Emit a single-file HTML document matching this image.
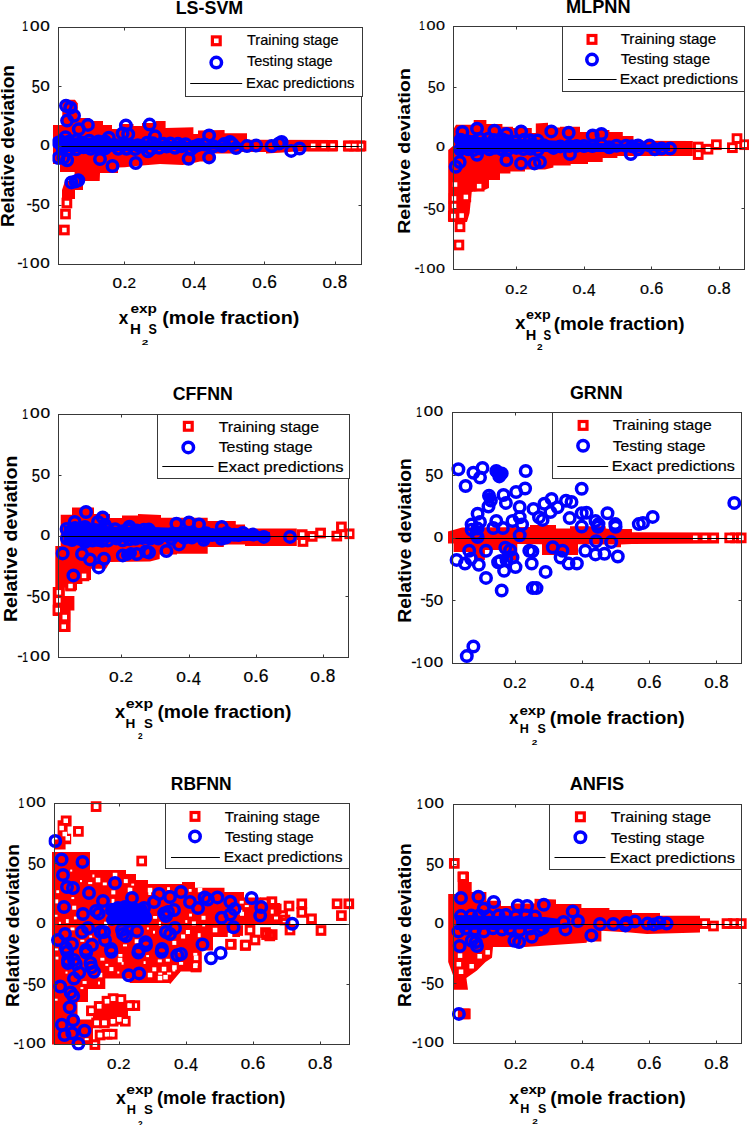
<!DOCTYPE html>
<html><head><meta charset="utf-8"><style>
html,body{margin:0;padding:0;background:#fff;width:749px;height:1125px;overflow:hidden}
svg{display:block;font-family:"Liberation Sans",sans-serif}
</style></head><body>
<svg width="749" height="1125" viewBox="0 0 749 1125">
<rect width="749" height="1125" fill="#fff"/>
<clipPath id="c1"><rect x="52.5" y="21.5" width="315.0" height="249.0"/></clipPath>
<g clip-path="url(#c1)">
<polygon points="53.0,125.0 76.0,125.0 76.0,118.0 90.0,118.0 90.0,121.0 103.0,121.0 103.0,125.0 112.0,125.0 112.0,129.0 120.0,129.0 120.0,124.0 133.5,124.0 133.5,126.0 142.0,126.0 142.0,123.0 156.0,123.0 156.0,121.0 165.6,121.0 165.6,128.0 193.4,127.2 193.4,134.0 198.0,134.0 198.0,130.5 224.6,130.1 224.6,133.3 247.0,133.3 247.0,139.7 337.5,140.0 337.5,151.5 295.0,151.5 283.0,152.5 266.0,153.6 266.0,152.0 239.5,152.0 239.5,153.6 214.0,153.6 214.0,161.6 200.0,161.6 193.4,163.0 182.7,165.0 160.0,164.0 133.5,166.2 125.0,167.3 118.0,167.5 118.0,173.0 100.0,173.0 99.7,181.0 74.6,181.0 74.6,172.0 60.0,172.0 60.0,164.0 53.0,164.0" fill="#f00"/>
<polygon points="343.5,140.5 365.0,140.5 365.0,151.5 343.5,151.5" fill="#f00"/>
<polygon points="66.0,99.8 75.0,99.8 77.8,103.5 77.8,125.0 62.3,125.0 62.3,103.5" fill="#f00"/>
<polygon points="65.0,181.0 83.0,181.0 83.0,190.0 75.0,190.0 75.0,199.0 62.0,199.0 62.0,190.0" fill="#f00"/>
<g fill="none" stroke="#f00" stroke-width="3.1">
<rect x="60.6" y="226.2" width="7.6" height="7.6"/>
<rect x="61.7" y="210.2" width="7.6" height="7.6"/>
<rect x="63.1" y="199.2" width="7.6" height="7.6"/>
<rect x="309.4" y="142.0" width="7.6" height="7.6"/>
<rect x="319.9" y="142.0" width="7.6" height="7.6"/>
<rect x="328.9" y="142.0" width="7.6" height="7.6"/>
<rect x="344.5" y="142.2" width="7.6" height="7.6"/>
<rect x="350.5" y="142.2" width="7.6" height="7.6"/>
<rect x="357.2" y="142.2" width="7.6" height="7.6"/>
</g>
<rect x="310.9" y="143.6" width="4.5" height="4.5" fill="#fff"/>
<rect x="321.4" y="143.6" width="4.5" height="4.5" fill="#fff"/>
<rect x="330.4" y="143.6" width="4.5" height="4.5" fill="#fff"/>
<rect x="346.1" y="143.8" width="4.5" height="4.5" fill="#fff"/>
<rect x="352.1" y="143.8" width="4.5" height="4.5" fill="#fff"/>
<rect x="358.8" y="143.8" width="4.5" height="4.5" fill="#fff"/>
<polygon points="56.0,137.0 110.0,138.0 120.0,141.0 190.0,142.0 240.0,143.0 240.0,149.0 190.0,150.0 120.0,150.0 110.0,152.0 56.0,152.0" fill="#00f"/>
<g fill="none" stroke="#00f" stroke-width="3.5">
<circle cx="66.0" cy="105.7" r="5.25"/>
<circle cx="70.3" cy="107.8" r="5.25"/>
<circle cx="74.0" cy="115.8" r="5.25"/>
<circle cx="67.1" cy="120.6" r="5.25"/>
<circle cx="87.9" cy="124.9" r="5.25"/>
<circle cx="125.9" cy="125.4" r="5.25"/>
<circle cx="78.8" cy="129.2" r="5.25"/>
<circle cx="65.5" cy="137.2" r="5.25"/>
<circle cx="58.5" cy="142.5" r="5.25"/>
<circle cx="108.8" cy="137.7" r="5.25"/>
<circle cx="122.6" cy="133.5" r="5.25"/>
<circle cx="58.5" cy="158.0" r="5.25"/>
<circle cx="67.1" cy="160.2" r="5.25"/>
<circle cx="63.4" cy="157.7" r="5.25"/>
<circle cx="112.5" cy="166.0" r="5.25"/>
<circle cx="71.4" cy="182.4" r="5.25"/>
<circle cx="75.6" cy="181.4" r="5.25"/>
<circle cx="78.3" cy="180.3" r="5.25"/>
<circle cx="100.0" cy="159.0" r="5.25"/>
<circle cx="149.6" cy="124.6" r="5.25"/>
<circle cx="135.7" cy="163.0" r="5.25"/>
<circle cx="188.6" cy="158.8" r="5.25"/>
<circle cx="148.0" cy="151.3" r="5.25"/>
<circle cx="155.0" cy="136.3" r="5.25"/>
<circle cx="198.7" cy="144.9" r="5.25"/>
<circle cx="128.2" cy="134.2" r="5.25"/>
<circle cx="209.1" cy="135.4" r="5.25"/>
<circle cx="209.1" cy="157.4" r="5.25"/>
<circle cx="247.0" cy="146.1" r="5.25"/>
<circle cx="256.1" cy="145.6" r="5.25"/>
<circle cx="271.6" cy="146.1" r="5.25"/>
<circle cx="279.0" cy="143.5" r="5.25"/>
<circle cx="230.0" cy="142.0" r="5.25"/>
<circle cx="236.0" cy="148.0" r="5.25"/>
<circle cx="222.0" cy="146.0" r="5.25"/>
<circle cx="281.6" cy="141.9" r="5.25"/>
<circle cx="291.2" cy="150.9" r="5.25"/>
<circle cx="299.6" cy="148.5" r="5.25"/>
<circle cx="61.2" cy="141.6" r="5.25"/>
<circle cx="68.6" cy="141.8" r="5.25"/>
<circle cx="76.4" cy="140.2" r="5.25"/>
<circle cx="81.5" cy="142.5" r="5.25"/>
<circle cx="89.3" cy="140.7" r="5.25"/>
<circle cx="98.5" cy="141.4" r="5.25"/>
<circle cx="105.0" cy="141.4" r="5.25"/>
<circle cx="62.4" cy="147.5" r="5.25"/>
<circle cx="69.4" cy="149.6" r="5.25"/>
<circle cx="76.1" cy="149.2" r="5.25"/>
<circle cx="83.5" cy="147.2" r="5.25"/>
<circle cx="90.8" cy="148.8" r="5.25"/>
<circle cx="96.4" cy="147.1" r="5.25"/>
<circle cx="105.1" cy="148.4" r="5.25"/>
<circle cx="114.7" cy="145.1" r="5.25"/>
<circle cx="122.6" cy="145.3" r="5.25"/>
<circle cx="129.7" cy="144.9" r="5.25"/>
<circle cx="137.8" cy="145.3" r="5.25"/>
<circle cx="147.1" cy="142.8" r="5.25"/>
<circle cx="152.9" cy="143.2" r="5.25"/>
<circle cx="163.4" cy="143.8" r="5.25"/>
<circle cx="170.4" cy="143.4" r="5.25"/>
<circle cx="178.0" cy="143.7" r="5.25"/>
<circle cx="185.6" cy="144.3" r="5.25"/>
<circle cx="118.3" cy="148.7" r="5.25"/>
<circle cx="126.5" cy="148.8" r="5.25"/>
<circle cx="135.1" cy="149.0" r="5.25"/>
<circle cx="142.5" cy="146.5" r="5.25"/>
<circle cx="151.1" cy="148.9" r="5.25"/>
<circle cx="159.2" cy="147.7" r="5.25"/>
<circle cx="166.6" cy="146.6" r="5.25"/>
<circle cx="175.0" cy="147.7" r="5.25"/>
<circle cx="181.4" cy="146.2" r="5.25"/>
<circle cx="191.1" cy="149.0" r="5.25"/>
<circle cx="194.8" cy="146.4" r="5.25"/>
<circle cx="204.7" cy="144.5" r="5.25"/>
<circle cx="213.4" cy="146.3" r="5.25"/>
<circle cx="224.1" cy="144.1" r="5.25"/>
<circle cx="232.3" cy="144.1" r="5.25"/>
</g>
</g>
<line x1="58.5" y1="146.5" x2="361.5" y2="146.5" stroke="#000" stroke-width="1.0"/>
<rect x="58.5" y="27.5" width="303.0" height="237.0" fill="none" stroke="#383838" stroke-width="1"/>
<path d="M124.5,264.5v-3.0M124.5,27.5v3.0M194.5,264.5v-3.0M194.5,27.5v3.0M264.5,264.5v-3.0M264.5,27.5v3.0M335.5,264.5v-3.0M335.5,27.5v3.0M58.5,27.5h3.0M361.5,27.5h-3.0M58.5,86.5h3.0M361.5,86.5h-3.0M58.5,146.5h3.0M361.5,146.5h-3.0M58.5,205.5h3.0M361.5,205.5h-3.0M58.5,264.5h3.0M361.5,264.5h-3.0" stroke="#383838" stroke-width="1"/>
<text x="22.32" y="31.45" font-size="14.39" stroke="#000" stroke-width="0.2" textLength="5.68" lengthAdjust="spacingAndGlyphs" fill="#000">1</text>
<text x="30.03" y="31.31" font-size="13.98" stroke="#000" stroke-width="0.2" textLength="9.54" lengthAdjust="spacingAndGlyphs" fill="#000">0</text>
<text x="40.23" y="31.31" font-size="13.98" stroke="#000" stroke-width="0.2" textLength="9.54" lengthAdjust="spacingAndGlyphs" fill="#000">0</text>
<text x="31.71" y="93.02" font-size="18.05" stroke="#000" stroke-width="0.2" textLength="8.21" lengthAdjust="spacingAndGlyphs" fill="#000">5</text>
<text x="40.23" y="90.56" font-size="13.98" stroke="#000" stroke-width="0.2" textLength="9.54" lengthAdjust="spacingAndGlyphs" fill="#000">0</text>
<text x="40.23" y="149.81" font-size="13.98" stroke="#000" stroke-width="0.2" textLength="9.54" lengthAdjust="spacingAndGlyphs" fill="#000">0</text>
<text x="26.48" y="208.51" font-size="16" stroke="#000" stroke-width="0.2" textLength="5.44" lengthAdjust="spacingAndGlyphs" fill="#000">-</text>
<text x="31.71" y="211.52" font-size="18.05" stroke="#000" stroke-width="0.2" textLength="8.21" lengthAdjust="spacingAndGlyphs" fill="#000">5</text>
<text x="40.23" y="209.06" font-size="13.98" stroke="#000" stroke-width="0.2" textLength="9.54" lengthAdjust="spacingAndGlyphs" fill="#000">0</text>
<text x="17.18" y="267.76" font-size="16" stroke="#000" stroke-width="0.2" textLength="5.44" lengthAdjust="spacingAndGlyphs" fill="#000">-</text>
<text x="22.32" y="268.45" font-size="14.39" stroke="#000" stroke-width="0.2" textLength="5.68" lengthAdjust="spacingAndGlyphs" fill="#000">1</text>
<text x="30.03" y="268.31" font-size="13.98" stroke="#000" stroke-width="0.2" textLength="9.54" lengthAdjust="spacingAndGlyphs" fill="#000">0</text>
<text x="40.23" y="268.31" font-size="13.98" stroke="#000" stroke-width="0.2" textLength="9.54" lengthAdjust="spacingAndGlyphs" fill="#000">0</text>
<text x="112.43" y="287.81" font-size="13.98" stroke="#000" stroke-width="0.2" textLength="9.54" lengthAdjust="spacingAndGlyphs" fill="#000">0</text>
<text x="121.42" y="287.95" font-size="15" stroke="#000" stroke-width="0.2" textLength="6.95" lengthAdjust="spacingAndGlyphs" fill="#000">.</text>
<text x="127.53" y="287.95" font-size="14.18" stroke="#000" stroke-width="0.2" textLength="8.54" lengthAdjust="spacingAndGlyphs" fill="#000">2</text>
<text x="181.98" y="287.81" font-size="13.98" stroke="#000" stroke-width="0.2" textLength="9.54" lengthAdjust="spacingAndGlyphs" fill="#000">0</text>
<text x="190.97" y="287.95" font-size="15" stroke="#000" stroke-width="0.2" textLength="6.95" lengthAdjust="spacingAndGlyphs" fill="#000">.</text>
<text x="197.27" y="290.45" font-size="18.31" stroke="#000" stroke-width="0.2" textLength="9.16" lengthAdjust="spacingAndGlyphs" fill="#000">4</text>
<text x="252.18" y="287.81" font-size="13.98" stroke="#000" stroke-width="0.2" textLength="9.54" lengthAdjust="spacingAndGlyphs" fill="#000">0</text>
<text x="261.17" y="287.95" font-size="15" stroke="#000" stroke-width="0.2" textLength="6.95" lengthAdjust="spacingAndGlyphs" fill="#000">.</text>
<text x="267.26" y="287.87" font-size="17.51" stroke="#000" stroke-width="0.2" textLength="9.65" lengthAdjust="spacingAndGlyphs" fill="#000">6</text>
<text x="322.48" y="287.81" font-size="13.98" stroke="#000" stroke-width="0.2" textLength="9.54" lengthAdjust="spacingAndGlyphs" fill="#000">0</text>
<text x="331.48" y="287.95" font-size="15" stroke="#000" stroke-width="0.2" textLength="6.95" lengthAdjust="spacingAndGlyphs" fill="#000">.</text>
<text x="337.72" y="287.87" font-size="17.51" stroke="#000" stroke-width="0.2" textLength="9.47" lengthAdjust="spacingAndGlyphs" fill="#000">8</text>
<text x="175.70" y="13.90" font-size="18.17" font-weight="bold" textLength="67.49" lengthAdjust="spacingAndGlyphs" fill="#000">LS-SVM</text>
<text transform="translate(14.15,226.98) rotate(-90)" x="0" y="0" font-size="17.6" font-weight="bold" textLength="161.96" lengthAdjust="spacingAndGlyphs">Relative deviation</text>
<text x="118.78" y="323.50" font-size="19" font-weight="bold" textLength="9.54" lengthAdjust="spacingAndGlyphs" fill="#000">x</text>
<text x="130.40" y="313.20" font-size="13" font-weight="bold" textLength="26.53" lengthAdjust="spacingAndGlyphs" fill="#000">exp</text>
<text x="129.99" y="334.30" font-size="14.39" font-weight="bold" textLength="10.93" lengthAdjust="spacingAndGlyphs" fill="#000">H</text>
<text x="141.79" y="344.50" font-size="8.02" font-weight="bold" textLength="6.59" lengthAdjust="spacingAndGlyphs" fill="#000">2</text>
<text x="148.44" y="334.35" font-size="14.55" font-weight="bold" textLength="8.35" lengthAdjust="spacingAndGlyphs" fill="#000">S</text>
<text x="162.31" y="323.80" font-size="19" font-weight="bold" textLength="136.97" lengthAdjust="spacingAndGlyphs" fill="#000">(mole fraction)</text>
<rect x="185.5" y="27.5" width="177.0" height="69.0" fill="#fff" stroke="#383838" stroke-width="1"/>
<rect x="212.4" y="36.9" width="7.8" height="7.8" fill="none" stroke="#f00" stroke-width="3.2"/>
<circle cx="216.3" cy="62.6" r="5.25" fill="none" stroke="#00f" stroke-width="3.5"/>
<line x1="190.2" y1="83.5" x2="242.2" y2="83.5" stroke="#000" stroke-width="1"/>
<text x="246.98" y="44.90" font-size="15" stroke="#000" stroke-width="0.2" textLength="91.66" lengthAdjust="spacingAndGlyphs" fill="#000">Training stage</text>
<text x="246.98" y="66.40" font-size="15" stroke="#000" stroke-width="0.2" textLength="85.73" lengthAdjust="spacingAndGlyphs" fill="#000">Testing stage</text>
<text x="246.09" y="88.00" font-size="15" stroke="#000" stroke-width="0.2" textLength="108.24" lengthAdjust="spacingAndGlyphs" fill="#000">Exac predictions</text>
<clipPath id="c2"><rect x="447.5" y="20.5" width="303.0" height="255.0"/></clipPath>
<g clip-path="url(#c2)">
<polygon points="456.0,124.7 473.7,124.7 473.7,120.0 486.4,120.0 486.4,124.0 502.4,124.0 502.4,126.7 513.0,126.7 513.0,128.0 531.8,128.0 531.8,133.0 535.8,133.0 535.8,123.4 548.0,122.7 548.0,127.4 560.0,127.4 560.0,126.7 580.0,126.7 580.0,132.0 588.0,132.0 588.0,130.0 609.4,130.0 609.4,132.0 622.8,132.0 622.8,136.0 633.5,136.0 633.5,140.7 692.8,140.9 692.8,156.0 617.4,156.0 617.4,158.0 602.7,158.0 602.7,162.0 588.0,162.0 588.0,164.0 570.7,164.0 570.7,165.4 553.4,165.4 553.4,167.4 545.0,169.4 525.0,169.4 525.0,171.4 510.4,171.4 510.4,173.4 500.0,173.4 500.0,180.0 489.0,180.0 489.0,188.0 484.5,190.0 471.7,192.0 470.6,202.7 469.6,213.0 467.0,222.0 448.2,222.0 448.2,150.0 453.0,146.0 453.0,130.0" fill="#f00"/>
<g fill="none" stroke="#f00" stroke-width="3.1">
<rect x="456.2" y="223.0" width="7.6" height="7.6"/>
<rect x="455.1" y="241.2" width="7.6" height="7.6"/>
<rect x="450.2" y="194.7" width="7.6" height="7.6"/>
<rect x="450.2" y="202.2" width="7.6" height="7.6"/>
<rect x="449.5" y="212.2" width="7.6" height="7.6"/>
<rect x="462.0" y="193.1" width="7.6" height="7.6"/>
<rect x="457.8" y="211.8" width="7.6" height="7.6"/>
<rect x="475.4" y="182.4" width="7.6" height="7.6"/>
<rect x="451.2" y="180.8" width="7.6" height="7.6"/>
<rect x="694.4" y="143.2" width="7.6" height="7.6"/>
<rect x="694.4" y="150.8" width="7.6" height="7.6"/>
<rect x="704.2" y="145.4" width="7.6" height="7.6"/>
<rect x="712.6" y="140.9" width="7.6" height="7.6"/>
<rect x="728.6" y="143.9" width="7.6" height="7.6"/>
<rect x="733.2" y="134.8" width="7.6" height="7.6"/>
<rect x="740.8" y="140.9" width="7.6" height="7.6"/>
</g>
<rect x="457.8" y="224.6" width="4.5" height="4.5" fill="#fff"/>
<rect x="456.6" y="242.8" width="4.5" height="4.5" fill="#fff"/>
<rect x="451.8" y="196.2" width="4.5" height="4.5" fill="#fff"/>
<rect x="451.8" y="203.8" width="4.5" height="4.5" fill="#fff"/>
<rect x="451.1" y="213.8" width="4.5" height="4.5" fill="#fff"/>
<rect x="463.6" y="194.7" width="4.5" height="4.5" fill="#fff"/>
<rect x="459.4" y="213.3" width="4.5" height="4.5" fill="#fff"/>
<rect x="476.9" y="183.9" width="4.5" height="4.5" fill="#fff"/>
<rect x="452.8" y="182.3" width="4.5" height="4.5" fill="#fff"/>
<rect x="696.0" y="144.8" width="4.5" height="4.5" fill="#fff"/>
<rect x="696.0" y="152.3" width="4.5" height="4.5" fill="#fff"/>
<rect x="705.8" y="146.9" width="4.5" height="4.5" fill="#fff"/>
<rect x="714.1" y="142.4" width="4.5" height="4.5" fill="#fff"/>
<rect x="730.1" y="145.4" width="4.5" height="4.5" fill="#fff"/>
<rect x="734.8" y="136.3" width="4.5" height="4.5" fill="#fff"/>
<rect x="742.4" y="142.4" width="4.5" height="4.5" fill="#fff"/>
<polygon points="456.0,136.0 545.0,140.0 600.0,143.0 670.0,145.0 670.0,151.0 600.0,152.0 545.0,152.0 456.0,153.0" fill="#00f"/>
<g fill="none" stroke="#00f" stroke-width="3.5">
<circle cx="462.4" cy="132.0" r="5.25"/>
<circle cx="477.0" cy="128.7" r="5.25"/>
<circle cx="494.4" cy="130.7" r="5.25"/>
<circle cx="506.4" cy="134.0" r="5.25"/>
<circle cx="521.1" cy="131.4" r="5.25"/>
<circle cx="455.7" cy="166.8" r="5.25"/>
<circle cx="459.7" cy="162.0" r="5.25"/>
<circle cx="477.0" cy="154.7" r="5.25"/>
<circle cx="506.4" cy="160.0" r="5.25"/>
<circle cx="521.1" cy="163.4" r="5.25"/>
<circle cx="534.5" cy="163.4" r="5.25"/>
<circle cx="551.3" cy="131.4" r="5.25"/>
<circle cx="568.7" cy="132.7" r="5.25"/>
<circle cx="592.7" cy="135.4" r="5.25"/>
<circle cx="601.4" cy="134.0" r="5.25"/>
<circle cx="584.0" cy="146.0" r="5.25"/>
<circle cx="630.8" cy="154.0" r="5.25"/>
<circle cx="638.0" cy="145.4" r="5.25"/>
<circle cx="570.0" cy="154.0" r="5.25"/>
<circle cx="540.0" cy="162.0" r="5.25"/>
<circle cx="638.0" cy="149.2" r="5.25"/>
<circle cx="649.5" cy="145.4" r="5.25"/>
<circle cx="654.8" cy="149.2" r="5.25"/>
<circle cx="661.6" cy="148.5" r="5.25"/>
<circle cx="670.0" cy="148.5" r="5.25"/>
<circle cx="460.7" cy="139.7" r="5.25"/>
<circle cx="468.1" cy="141.6" r="5.25"/>
<circle cx="474.0" cy="141.7" r="5.25"/>
<circle cx="480.4" cy="138.9" r="5.25"/>
<circle cx="488.3" cy="138.8" r="5.25"/>
<circle cx="494.1" cy="139.9" r="5.25"/>
<circle cx="502.3" cy="139.2" r="5.25"/>
<circle cx="507.6" cy="141.3" r="5.25"/>
<circle cx="515.4" cy="141.6" r="5.25"/>
<circle cx="524.2" cy="139.8" r="5.25"/>
<circle cx="529.9" cy="140.3" r="5.25"/>
<circle cx="537.4" cy="140.5" r="5.25"/>
<circle cx="460.2" cy="149.6" r="5.25"/>
<circle cx="468.3" cy="149.2" r="5.25"/>
<circle cx="473.8" cy="149.9" r="5.25"/>
<circle cx="480.2" cy="148.6" r="5.25"/>
<circle cx="489.4" cy="149.3" r="5.25"/>
<circle cx="495.1" cy="147.7" r="5.25"/>
<circle cx="501.7" cy="149.4" r="5.25"/>
<circle cx="507.6" cy="149.5" r="5.25"/>
<circle cx="516.4" cy="147.9" r="5.25"/>
<circle cx="523.4" cy="149.1" r="5.25"/>
<circle cx="530.5" cy="148.8" r="5.25"/>
<circle cx="537.6" cy="149.9" r="5.25"/>
<circle cx="543.6" cy="145.2" r="5.25"/>
<circle cx="553.5" cy="147.9" r="5.25"/>
<circle cx="560.3" cy="146.4" r="5.25"/>
<circle cx="569.3" cy="146.0" r="5.25"/>
<circle cx="576.6" cy="145.9" r="5.25"/>
<circle cx="592.4" cy="146.1" r="5.25"/>
<circle cx="601.8" cy="145.1" r="5.25"/>
<circle cx="609.2" cy="147.2" r="5.25"/>
<circle cx="616.4" cy="145.7" r="5.25"/>
<circle cx="625.9" cy="145.7" r="5.25"/>
<circle cx="632.1" cy="146.3" r="5.25"/>
</g>
</g>
<line x1="453.5" y1="148.5" x2="744.5" y2="148.5" stroke="#000" stroke-width="1.0"/>
<rect x="453.5" y="26.5" width="291.0" height="243.0" fill="none" stroke="#383838" stroke-width="1"/>
<path d="M516.5,269.5v-3.0M516.5,26.5v3.0M584.5,269.5v-3.0M584.5,26.5v3.0M651.5,269.5v-3.0M651.5,26.5v3.0M719.5,269.5v-3.0M719.5,26.5v3.0M453.5,26.5h3.0M744.5,26.5h-3.0M453.5,87.5h3.0M744.5,87.5h-3.0M453.5,148.5h3.0M744.5,148.5h-3.0M453.5,208.5h3.0M744.5,208.5h-3.0M453.5,269.5h3.0M744.5,269.5h-3.0" stroke="#383838" stroke-width="1"/>
<text x="419.23" y="30.10" font-size="13.37" stroke="#000" stroke-width="0.2" textLength="5.34" lengthAdjust="spacingAndGlyphs" fill="#000">1</text>
<text x="426.48" y="29.97" font-size="12.99" stroke="#000" stroke-width="0.2" textLength="8.97" lengthAdjust="spacingAndGlyphs" fill="#000">0</text>
<text x="436.06" y="29.97" font-size="12.99" stroke="#000" stroke-width="0.2" textLength="8.97" lengthAdjust="spacingAndGlyphs" fill="#000">0</text>
<text x="428.05" y="93.18" font-size="17.05" stroke="#000" stroke-width="0.2" textLength="7.72" lengthAdjust="spacingAndGlyphs" fill="#000">5</text>
<text x="436.06" y="90.72" font-size="12.99" stroke="#000" stroke-width="0.2" textLength="8.97" lengthAdjust="spacingAndGlyphs" fill="#000">0</text>
<text x="436.06" y="151.47" font-size="12.99" stroke="#000" stroke-width="0.2" textLength="8.97" lengthAdjust="spacingAndGlyphs" fill="#000">0</text>
<text x="423.14" y="212.01" font-size="16" stroke="#000" stroke-width="0.2" textLength="5.11" lengthAdjust="spacingAndGlyphs" fill="#000">-</text>
<text x="428.05" y="214.68" font-size="17.05" stroke="#000" stroke-width="0.2" textLength="7.72" lengthAdjust="spacingAndGlyphs" fill="#000">5</text>
<text x="436.06" y="212.22" font-size="12.99" stroke="#000" stroke-width="0.2" textLength="8.97" lengthAdjust="spacingAndGlyphs" fill="#000">0</text>
<text x="414.40" y="272.76" font-size="16" stroke="#000" stroke-width="0.2" textLength="5.11" lengthAdjust="spacingAndGlyphs" fill="#000">-</text>
<text x="419.23" y="273.10" font-size="13.37" stroke="#000" stroke-width="0.2" textLength="5.34" lengthAdjust="spacingAndGlyphs" fill="#000">1</text>
<text x="426.48" y="272.97" font-size="12.99" stroke="#000" stroke-width="0.2" textLength="8.97" lengthAdjust="spacingAndGlyphs" fill="#000">0</text>
<text x="436.06" y="272.97" font-size="12.99" stroke="#000" stroke-width="0.2" textLength="8.97" lengthAdjust="spacingAndGlyphs" fill="#000">0</text>
<text x="505.24" y="293.57" font-size="12.99" stroke="#000" stroke-width="0.2" textLength="8.97" lengthAdjust="spacingAndGlyphs" fill="#000">0</text>
<text x="513.69" y="293.70" font-size="15" stroke="#000" stroke-width="0.2" textLength="6.53" lengthAdjust="spacingAndGlyphs" fill="#000">.</text>
<text x="519.43" y="293.70" font-size="13.18" stroke="#000" stroke-width="0.2" textLength="8.03" lengthAdjust="spacingAndGlyphs" fill="#000">2</text>
<text x="572.52" y="293.57" font-size="12.99" stroke="#000" stroke-width="0.2" textLength="8.97" lengthAdjust="spacingAndGlyphs" fill="#000">0</text>
<text x="580.97" y="293.70" font-size="15" stroke="#000" stroke-width="0.2" textLength="6.53" lengthAdjust="spacingAndGlyphs" fill="#000">.</text>
<text x="586.89" y="296.20" font-size="17.3" stroke="#000" stroke-width="0.2" textLength="8.61" lengthAdjust="spacingAndGlyphs" fill="#000">4</text>
<text x="640.02" y="293.57" font-size="12.99" stroke="#000" stroke-width="0.2" textLength="8.97" lengthAdjust="spacingAndGlyphs" fill="#000">0</text>
<text x="648.47" y="293.70" font-size="15" stroke="#000" stroke-width="0.2" textLength="6.53" lengthAdjust="spacingAndGlyphs" fill="#000">.</text>
<text x="654.20" y="293.63" font-size="16.53" stroke="#000" stroke-width="0.2" textLength="9.07" lengthAdjust="spacingAndGlyphs" fill="#000">6</text>
<text x="707.52" y="293.57" font-size="12.99" stroke="#000" stroke-width="0.2" textLength="8.97" lengthAdjust="spacingAndGlyphs" fill="#000">0</text>
<text x="715.97" y="293.70" font-size="15" stroke="#000" stroke-width="0.2" textLength="6.53" lengthAdjust="spacingAndGlyphs" fill="#000">.</text>
<text x="721.84" y="293.63" font-size="16.53" stroke="#000" stroke-width="0.2" textLength="8.90" lengthAdjust="spacingAndGlyphs" fill="#000">8</text>
<text x="565.98" y="12.50" font-size="18.17" font-weight="bold" textLength="64.64" lengthAdjust="spacingAndGlyphs" fill="#000">MLPNN</text>
<text transform="translate(410.30,233.70) rotate(-90)" x="0" y="0" font-size="17.4" font-weight="bold" textLength="165.51" lengthAdjust="spacingAndGlyphs">Relative deviation</text>
<text x="515.37" y="329.00" font-size="19" font-weight="bold" textLength="10.16" lengthAdjust="spacingAndGlyphs" fill="#000">x</text>
<text x="526.14" y="319.40" font-size="13" font-weight="bold" textLength="24.65" lengthAdjust="spacingAndGlyphs" fill="#000">exp</text>
<text x="525.72" y="339.80" font-size="14.53" font-weight="bold" textLength="10.56" lengthAdjust="spacingAndGlyphs" fill="#000">H</text>
<text x="537.05" y="350.10" font-size="8.74" font-weight="bold" textLength="5.55" lengthAdjust="spacingAndGlyphs" fill="#000">2</text>
<text x="543.47" y="339.85" font-size="14.69" font-weight="bold" textLength="7.68" lengthAdjust="spacingAndGlyphs" fill="#000">S</text>
<text x="553.76" y="330.00" font-size="19" font-weight="bold" textLength="130.88" lengthAdjust="spacingAndGlyphs" fill="#000">(mole fraction)</text>
<rect x="562.5" y="26.5" width="182.0" height="65.0" fill="#fff" stroke="#383838" stroke-width="1"/>
<rect x="588.1" y="35.5" width="7.8" height="7.8" fill="none" stroke="#f00" stroke-width="3.2"/>
<circle cx="592.0" cy="59.6" r="5.25" fill="none" stroke="#00f" stroke-width="3.5"/>
<line x1="568.0" y1="79.5" x2="616.6" y2="79.5" stroke="#000" stroke-width="1"/>
<text x="620.67" y="43.80" font-size="15" stroke="#000" stroke-width="0.2" textLength="95.60" lengthAdjust="spacingAndGlyphs" fill="#000">Training stage</text>
<text x="620.67" y="64.00" font-size="15" stroke="#000" stroke-width="0.2" textLength="89.42" lengthAdjust="spacingAndGlyphs" fill="#000">Testing stage</text>
<text x="619.72" y="84.20" font-size="15" stroke="#000" stroke-width="0.2" textLength="118.43" lengthAdjust="spacingAndGlyphs" fill="#000">Exact predictions</text>
<clipPath id="c3"><rect x="52.5" y="408.5" width="302.0" height="255.0"/></clipPath>
<g clip-path="url(#c3)">
<polygon points="60.7,514.7 72.0,514.7 72.0,507.4 94.0,507.4 94.0,514.0 110.0,514.0 110.0,518.0 122.0,518.0 122.0,515.4 138.0,515.4 138.0,514.0 161.0,515.0 161.0,517.7 207.7,517.7 207.7,521.0 235.8,521.0 235.8,524.4 245.0,524.4 245.0,528.4 296.8,528.4 296.8,546.0 245.0,546.0 245.0,544.4 223.8,544.4 223.8,547.0 207.7,547.0 207.7,553.7 177.0,553.7 177.0,554.4 159.7,554.4 159.7,559.0 150.0,561.4 110.0,562.0 106.0,568.8 91.0,568.8 91.0,580.0 82.4,580.0 82.4,583.9 77.0,583.9 77.0,590.3 65.3,590.3 65.3,587.6 55.3,587.6 55.3,546.0 60.7,546.0" fill="#f00"/>
<polygon points="52.5,587.0 64.8,587.0 64.8,596.0 74.4,596.0 74.4,610.6 70.6,610.6 70.6,632.0 58.4,632.0 58.4,616.0 52.5,616.0" fill="#f00"/>
<g fill="none" stroke="#f00" stroke-width="3.1">
<rect x="55.1" y="588.6" width="7.6" height="7.6"/>
<rect x="54.6" y="596.6" width="7.6" height="7.6"/>
<rect x="54.0" y="606.2" width="7.6" height="7.6"/>
<rect x="61.0" y="613.2" width="7.6" height="7.6"/>
<rect x="59.9" y="622.8" width="7.6" height="7.6"/>
<rect x="66.8" y="582.2" width="7.6" height="7.6"/>
<rect x="80.2" y="572.1" width="7.6" height="7.6"/>
<rect x="298.4" y="530.8" width="7.6" height="7.6"/>
<rect x="299.2" y="537.7" width="7.6" height="7.6"/>
<rect x="308.4" y="532.6" width="7.6" height="7.6"/>
<rect x="316.8" y="529.2" width="7.6" height="7.6"/>
<rect x="333.0" y="532.3" width="7.6" height="7.6"/>
<rect x="337.6" y="523.1" width="7.6" height="7.6"/>
<rect x="346.0" y="530.0" width="7.6" height="7.6"/>
</g>
<rect x="56.6" y="590.1" width="4.5" height="4.5" fill="#fff"/>
<rect x="56.1" y="598.1" width="4.5" height="4.5" fill="#fff"/>
<rect x="55.5" y="607.8" width="4.5" height="4.5" fill="#fff"/>
<rect x="62.5" y="614.8" width="4.5" height="4.5" fill="#fff"/>
<rect x="61.5" y="624.4" width="4.5" height="4.5" fill="#fff"/>
<rect x="68.3" y="583.8" width="4.5" height="4.5" fill="#fff"/>
<rect x="81.8" y="573.6" width="4.5" height="4.5" fill="#fff"/>
<polygon points="64.0,526.0 150.0,527.0 245.0,530.0 270.0,532.0 270.0,540.0 245.0,541.0 150.0,542.0 64.0,543.0" fill="#00f"/>
<circle cx="75" cy="528" r="7" fill="#00f"/>
<circle cx="85" cy="527" r="7" fill="#00f"/>
<circle cx="95" cy="530" r="7" fill="#00f"/>
<circle cx="72" cy="540" r="7" fill="#00f"/>
<circle cx="85" cy="542" r="7" fill="#00f"/>
<circle cx="98" cy="541" r="6" fill="#00f"/>
<circle cx="127" cy="555" r="6" fill="#00f"/>
<circle cx="131" cy="553" r="6" fill="#00f"/>
<g fill="none" stroke="#00f" stroke-width="3.5">
<circle cx="86.0" cy="512.0" r="5.25"/>
<circle cx="102.7" cy="517.4" r="5.25"/>
<circle cx="98.0" cy="522.0" r="5.25"/>
<circle cx="105.0" cy="525.0" r="5.25"/>
<circle cx="74.7" cy="522.0" r="5.25"/>
<circle cx="129.4" cy="526.7" r="5.25"/>
<circle cx="62.7" cy="553.4" r="5.25"/>
<circle cx="82.0" cy="554.0" r="5.25"/>
<circle cx="90.0" cy="559.4" r="5.25"/>
<circle cx="104.0" cy="558.8" r="5.25"/>
<circle cx="98.7" cy="567.4" r="5.25"/>
<circle cx="73.4" cy="575.4" r="5.25"/>
<circle cx="122.8" cy="555.4" r="5.25"/>
<circle cx="136.8" cy="554.0" r="5.25"/>
<circle cx="146.0" cy="551.4" r="5.25"/>
<circle cx="176.4" cy="523.7" r="5.25"/>
<circle cx="189.0" cy="522.4" r="5.25"/>
<circle cx="199.0" cy="524.4" r="5.25"/>
<circle cx="221.8" cy="527.0" r="5.25"/>
<circle cx="238.5" cy="535.0" r="5.25"/>
<circle cx="203.7" cy="539.7" r="5.25"/>
<circle cx="149.0" cy="552.4" r="5.25"/>
<circle cx="166.4" cy="551.0" r="5.25"/>
<circle cx="179.0" cy="544.4" r="5.25"/>
<circle cx="243.0" cy="533.0" r="5.25"/>
<circle cx="253.0" cy="534.6" r="5.25"/>
<circle cx="263.8" cy="536.9" r="5.25"/>
<circle cx="290.0" cy="536.9" r="5.25"/>
<circle cx="66.6" cy="529.0" r="5.25"/>
<circle cx="72.5" cy="529.7" r="5.25"/>
<circle cx="81.0" cy="530.0" r="5.25"/>
<circle cx="88.1" cy="529.2" r="5.25"/>
<circle cx="93.5" cy="530.7" r="5.25"/>
<circle cx="102.2" cy="530.1" r="5.25"/>
<circle cx="107.2" cy="529.1" r="5.25"/>
<circle cx="115.1" cy="529.3" r="5.25"/>
<circle cx="122.9" cy="531.2" r="5.25"/>
<circle cx="128.1" cy="529.5" r="5.25"/>
<circle cx="136.9" cy="530.6" r="5.25"/>
<circle cx="143.9" cy="529.7" r="5.25"/>
<circle cx="148.9" cy="529.6" r="5.25"/>
<circle cx="66.9" cy="538.5" r="5.25"/>
<circle cx="72.5" cy="539.0" r="5.25"/>
<circle cx="79.8" cy="538.9" r="5.25"/>
<circle cx="88.3" cy="538.2" r="5.25"/>
<circle cx="92.5" cy="540.5" r="5.25"/>
<circle cx="102.1" cy="540.7" r="5.25"/>
<circle cx="107.8" cy="540.6" r="5.25"/>
<circle cx="116.3" cy="538.4" r="5.25"/>
<circle cx="122.7" cy="540.2" r="5.25"/>
<circle cx="129.5" cy="539.3" r="5.25"/>
<circle cx="135.4" cy="538.7" r="5.25"/>
<circle cx="142.2" cy="537.9" r="5.25"/>
<circle cx="150.3" cy="538.6" r="5.25"/>
<circle cx="150.9" cy="532.4" r="5.25"/>
<circle cx="158.2" cy="534.4" r="5.25"/>
<circle cx="165.3" cy="535.0" r="5.25"/>
<circle cx="172.2" cy="534.0" r="5.25"/>
<circle cx="176.5" cy="534.5" r="5.25"/>
<circle cx="184.0" cy="533.2" r="5.25"/>
<circle cx="192.5" cy="533.9" r="5.25"/>
<circle cx="198.7" cy="535.1" r="5.25"/>
<circle cx="206.3" cy="533.3" r="5.25"/>
<circle cx="212.3" cy="534.9" r="5.25"/>
<circle cx="219.9" cy="534.6" r="5.25"/>
<circle cx="226.6" cy="532.9" r="5.25"/>
<circle cx="234.1" cy="534.8" r="5.25"/>
<circle cx="158.3" cy="538.5" r="5.25"/>
<circle cx="171.4" cy="538.7" r="5.25"/>
<circle cx="184.3" cy="537.7" r="5.25"/>
<circle cx="191.8" cy="537.5" r="5.25"/>
<circle cx="204.7" cy="536.5" r="5.25"/>
<circle cx="221.4" cy="538.7" r="5.25"/>
<circle cx="225.8" cy="537.6" r="5.25"/>
</g>
</g>
<line x1="58.5" y1="536.5" x2="348.5" y2="536.5" stroke="#000" stroke-width="1.0"/>
<rect x="58.5" y="414.5" width="290.0" height="243.0" fill="none" stroke="#383838" stroke-width="1"/>
<path d="M121.5,657.5v-3.0M121.5,414.5v3.0M189.5,657.5v-3.0M189.5,414.5v3.0M256.5,657.5v-3.0M256.5,414.5v3.0M323.5,657.5v-3.0M323.5,414.5v3.0M58.5,414.5h3.0M348.5,414.5h-3.0M58.5,475.5h3.0M348.5,475.5h-3.0M58.5,536.5h3.0M348.5,536.5h-3.0M58.5,596.5h3.0M348.5,596.5h-3.0M58.5,657.5h3.0M348.5,657.5h-3.0" stroke="#383838" stroke-width="1"/>
<text x="22.36" y="418.50" font-size="14.53" stroke="#000" stroke-width="0.2" textLength="5.73" lengthAdjust="spacingAndGlyphs" fill="#000">1</text>
<text x="30.14" y="418.36" font-size="14.12" stroke="#000" stroke-width="0.2" textLength="9.64" lengthAdjust="spacingAndGlyphs" fill="#000">0</text>
<text x="40.44" y="418.36" font-size="14.12" stroke="#000" stroke-width="0.2" textLength="9.64" lengthAdjust="spacingAndGlyphs" fill="#000">0</text>
<text x="31.84" y="481.57" font-size="18.19" stroke="#000" stroke-width="0.2" textLength="8.30" lengthAdjust="spacingAndGlyphs" fill="#000">5</text>
<text x="40.44" y="479.11" font-size="14.12" stroke="#000" stroke-width="0.2" textLength="9.64" lengthAdjust="spacingAndGlyphs" fill="#000">0</text>
<text x="40.44" y="539.86" font-size="14.12" stroke="#000" stroke-width="0.2" textLength="9.64" lengthAdjust="spacingAndGlyphs" fill="#000">0</text>
<text x="26.56" y="600.01" font-size="16" stroke="#000" stroke-width="0.2" textLength="5.49" lengthAdjust="spacingAndGlyphs" fill="#000">-</text>
<text x="31.84" y="603.07" font-size="18.19" stroke="#000" stroke-width="0.2" textLength="8.30" lengthAdjust="spacingAndGlyphs" fill="#000">5</text>
<text x="40.44" y="600.61" font-size="14.12" stroke="#000" stroke-width="0.2" textLength="9.64" lengthAdjust="spacingAndGlyphs" fill="#000">0</text>
<text x="17.16" y="660.76" font-size="16" stroke="#000" stroke-width="0.2" textLength="5.49" lengthAdjust="spacingAndGlyphs" fill="#000">-</text>
<text x="22.36" y="661.50" font-size="14.53" stroke="#000" stroke-width="0.2" textLength="5.73" lengthAdjust="spacingAndGlyphs" fill="#000">1</text>
<text x="30.14" y="661.36" font-size="14.12" stroke="#000" stroke-width="0.2" textLength="9.64" lengthAdjust="spacingAndGlyphs" fill="#000">0</text>
<text x="40.44" y="661.36" font-size="14.12" stroke="#000" stroke-width="0.2" textLength="9.64" lengthAdjust="spacingAndGlyphs" fill="#000">0</text>
<text x="109.11" y="682.06" font-size="14.12" stroke="#000" stroke-width="0.2" textLength="9.64" lengthAdjust="spacingAndGlyphs" fill="#000">0</text>
<text x="118.20" y="682.20" font-size="15" stroke="#000" stroke-width="0.2" textLength="7.02" lengthAdjust="spacingAndGlyphs" fill="#000">.</text>
<text x="124.37" y="682.20" font-size="14.33" stroke="#000" stroke-width="0.2" textLength="8.62" lengthAdjust="spacingAndGlyphs" fill="#000">2</text>
<text x="176.26" y="682.06" font-size="14.12" stroke="#000" stroke-width="0.2" textLength="9.64" lengthAdjust="spacingAndGlyphs" fill="#000">0</text>
<text x="185.34" y="682.20" font-size="15" stroke="#000" stroke-width="0.2" textLength="7.02" lengthAdjust="spacingAndGlyphs" fill="#000">.</text>
<text x="191.70" y="684.70" font-size="18.46" stroke="#000" stroke-width="0.2" textLength="9.25" lengthAdjust="spacingAndGlyphs" fill="#000">4</text>
<text x="243.46" y="682.06" font-size="14.12" stroke="#000" stroke-width="0.2" textLength="9.64" lengthAdjust="spacingAndGlyphs" fill="#000">0</text>
<text x="252.54" y="682.20" font-size="15" stroke="#000" stroke-width="0.2" textLength="7.02" lengthAdjust="spacingAndGlyphs" fill="#000">.</text>
<text x="258.69" y="682.12" font-size="17.66" stroke="#000" stroke-width="0.2" textLength="9.75" lengthAdjust="spacingAndGlyphs" fill="#000">6</text>
<text x="310.36" y="682.06" font-size="14.12" stroke="#000" stroke-width="0.2" textLength="9.64" lengthAdjust="spacingAndGlyphs" fill="#000">0</text>
<text x="319.44" y="682.20" font-size="15" stroke="#000" stroke-width="0.2" textLength="7.02" lengthAdjust="spacingAndGlyphs" fill="#000">.</text>
<text x="325.75" y="682.12" font-size="17.66" stroke="#000" stroke-width="0.2" textLength="9.56" lengthAdjust="spacingAndGlyphs" fill="#000">8</text>
<text x="172.78" y="399.80" font-size="18.17" font-weight="bold" textLength="59.91" lengthAdjust="spacingAndGlyphs" fill="#000">CFFNN</text>
<text transform="translate(17.40,622.01) rotate(-90)" x="0" y="0" font-size="18.1" font-weight="bold" textLength="166.42" lengthAdjust="spacingAndGlyphs">Relative deviation</text>
<text x="114.97" y="718.00" font-size="19" font-weight="bold" textLength="10.16" lengthAdjust="spacingAndGlyphs" fill="#000">x</text>
<text x="125.78" y="708.20" font-size="13" font-weight="bold" textLength="27.37" lengthAdjust="spacingAndGlyphs" fill="#000">exp</text>
<text x="125.49" y="727.60" font-size="11.92" font-weight="bold" textLength="9.83" lengthAdjust="spacingAndGlyphs" fill="#000">H</text>
<text x="138.11" y="739.40" font-size="9.6" font-weight="bold" textLength="4.62" lengthAdjust="spacingAndGlyphs" fill="#000">2</text>
<text x="144.11" y="727.68" font-size="12.15" font-weight="bold" textLength="8.91" lengthAdjust="spacingAndGlyphs" fill="#000">S</text>
<text x="157.43" y="718.00" font-size="19" font-weight="bold" textLength="134.13" lengthAdjust="spacingAndGlyphs" fill="#000">(mole fraction)</text>
<rect x="157.5" y="414.5" width="192.0" height="64.0" fill="#fff" stroke="#383838" stroke-width="1"/>
<rect x="184.4" y="422.4" width="7.8" height="7.8" fill="none" stroke="#f00" stroke-width="3.2"/>
<circle cx="188.3" cy="447.4" r="5.25" fill="none" stroke="#00f" stroke-width="3.5"/>
<line x1="162.3" y1="466.5" x2="213.5" y2="466.5" stroke="#000" stroke-width="1"/>
<text x="218.65" y="431.50" font-size="15" stroke="#000" stroke-width="0.2" textLength="100.35" lengthAdjust="spacingAndGlyphs" fill="#000">Training stage</text>
<text x="218.65" y="452.00" font-size="15" stroke="#000" stroke-width="0.2" textLength="93.86" lengthAdjust="spacingAndGlyphs" fill="#000">Testing stage</text>
<text x="217.64" y="472.00" font-size="15" stroke="#000" stroke-width="0.2" textLength="125.95" lengthAdjust="spacingAndGlyphs" fill="#000">Exact predictions</text>
<clipPath id="c4"><rect x="446.5" y="406.5" width="301.0" height="263.0"/></clipPath>
<g clip-path="url(#c4)">
<polygon points="448.0,531.5 462.0,527.5 530.0,527.0 530.0,525.0 556.0,525.0 556.0,528.6 570.0,528.6 570.0,526.3 605.7,526.3 605.7,528.6 610.0,528.9 632.0,528.9 632.0,532.2 719.1,532.4 719.1,543.4 632.0,544.0 621.0,544.5 621.0,547.2 616.0,547.2 616.0,544.5 578.0,544.2 578.0,555.0 542.0,555.0 542.0,544.2 517.3,544.0 517.3,559.9 501.7,559.9 501.7,550.0 484.9,550.0 484.9,559.9 474.0,559.9 474.0,552.0 453.6,552.0 453.6,543.6 448.0,543.6" fill="#f00"/>
<g fill="none" stroke="#f00" stroke-width="3.1">
<rect x="725.9" y="534.1" width="7.6" height="7.6"/>
<rect x="731.7" y="534.1" width="7.6" height="7.6"/>
<rect x="737.4" y="534.1" width="7.6" height="7.6"/>
</g>
<rect x="693.0" y="535.6" width="4.5" height="4.5" fill="#fff"/>
<rect x="702.6" y="535.6" width="4.5" height="4.5" fill="#fff"/>
<rect x="711.4" y="535.6" width="4.5" height="4.5" fill="#fff"/>
<rect x="727.5" y="535.6" width="4.5" height="4.5" fill="#fff"/>
<rect x="739.0" y="535.6" width="4.5" height="4.5" fill="#fff"/>
<circle cx="497.5" cy="472.5" r="6.5" fill="#00f"/>
<circle cx="500" cy="475" r="6.3" fill="#00f"/>
<circle cx="489.5" cy="498" r="6.0" fill="#00f"/>
<g fill="none" stroke="#00f" stroke-width="3.5">
<circle cx="458.4" cy="469.2" r="5.25"/>
<circle cx="473.4" cy="472.8" r="5.25"/>
<circle cx="482.5" cy="468.0" r="5.25"/>
<circle cx="480.0" cy="477.6" r="5.25"/>
<circle cx="496.3" cy="471.0" r="5.25"/>
<circle cx="501.7" cy="473.4" r="5.25"/>
<circle cx="499.3" cy="476.4" r="5.25"/>
<circle cx="525.7" cy="471.0" r="5.25"/>
<circle cx="465.6" cy="486.0" r="5.25"/>
<circle cx="489.0" cy="495.7" r="5.25"/>
<circle cx="490.9" cy="500.5" r="5.25"/>
<circle cx="488.5" cy="506.5" r="5.25"/>
<circle cx="503.5" cy="495.0" r="5.25"/>
<circle cx="505.9" cy="502.9" r="5.25"/>
<circle cx="516.1" cy="492.0" r="5.25"/>
<circle cx="525.1" cy="488.5" r="5.25"/>
<circle cx="519.7" cy="507.0" r="5.25"/>
<circle cx="533.5" cy="508.9" r="5.25"/>
<circle cx="477.6" cy="513.7" r="5.25"/>
<circle cx="471.6" cy="524.5" r="5.25"/>
<circle cx="480.0" cy="522.0" r="5.25"/>
<circle cx="496.3" cy="521.0" r="5.25"/>
<circle cx="493.3" cy="528.0" r="5.25"/>
<circle cx="502.9" cy="528.0" r="5.25"/>
<circle cx="512.5" cy="521.0" r="5.25"/>
<circle cx="519.7" cy="517.3" r="5.25"/>
<circle cx="522.1" cy="524.5" r="5.25"/>
<circle cx="519.7" cy="535.3" r="5.25"/>
<circle cx="476.4" cy="534.0" r="5.25"/>
<circle cx="539.0" cy="517.3" r="5.25"/>
<circle cx="581.7" cy="488.7" r="5.25"/>
<circle cx="551.6" cy="498.9" r="5.25"/>
<circle cx="544.4" cy="503.7" r="5.25"/>
<circle cx="566.0" cy="500.7" r="5.25"/>
<circle cx="571.5" cy="501.9" r="5.25"/>
<circle cx="569.7" cy="518.1" r="5.25"/>
<circle cx="581.7" cy="513.3" r="5.25"/>
<circle cx="586.5" cy="512.7" r="5.25"/>
<circle cx="607.5" cy="513.3" r="5.25"/>
<circle cx="595.5" cy="521.1" r="5.25"/>
<circle cx="598.5" cy="524.1" r="5.25"/>
<circle cx="581.7" cy="526.5" r="5.25"/>
<circle cx="615.3" cy="524.1" r="5.25"/>
<circle cx="542.6" cy="519.9" r="5.25"/>
<circle cx="550.4" cy="512.1" r="5.25"/>
<circle cx="557.6" cy="507.3" r="5.25"/>
<circle cx="652.7" cy="516.9" r="5.25"/>
<circle cx="638.8" cy="524.1" r="5.25"/>
<circle cx="643.0" cy="522.9" r="5.25"/>
<circle cx="734.3" cy="502.9" r="5.25"/>
<circle cx="611.2" cy="542.1" r="5.25"/>
<circle cx="617.8" cy="556.5" r="5.25"/>
<circle cx="456.6" cy="559.9" r="5.25"/>
<circle cx="465.0" cy="563.5" r="5.25"/>
<circle cx="469.2" cy="550.8" r="5.25"/>
<circle cx="471.0" cy="558.7" r="5.25"/>
<circle cx="478.8" cy="564.7" r="5.25"/>
<circle cx="486.0" cy="550.8" r="5.25"/>
<circle cx="486.0" cy="577.9" r="5.25"/>
<circle cx="501.7" cy="590.5" r="5.25"/>
<circle cx="477.6" cy="537.0" r="5.25"/>
<circle cx="471.6" cy="529.8" r="5.25"/>
<circle cx="477.6" cy="528.6" r="5.25"/>
<circle cx="498.1" cy="562.3" r="5.25"/>
<circle cx="504.1" cy="570.7" r="5.25"/>
<circle cx="505.3" cy="547.8" r="5.25"/>
<circle cx="510.1" cy="550.2" r="5.25"/>
<circle cx="512.5" cy="557.5" r="5.25"/>
<circle cx="515.5" cy="567.1" r="5.25"/>
<circle cx="529.3" cy="550.8" r="5.25"/>
<circle cx="531.7" cy="563.5" r="5.25"/>
<circle cx="532.9" cy="588.1" r="5.25"/>
<circle cx="536.5" cy="588.1" r="5.25"/>
<circle cx="500.5" cy="561.0" r="5.25"/>
<circle cx="506.5" cy="559.9" r="5.25"/>
<circle cx="552.8" cy="547.2" r="5.25"/>
<circle cx="562.5" cy="550.8" r="5.25"/>
<circle cx="560.6" cy="557.5" r="5.25"/>
<circle cx="568.5" cy="563.5" r="5.25"/>
<circle cx="576.9" cy="563.5" r="5.25"/>
<circle cx="545.6" cy="571.9" r="5.25"/>
<circle cx="585.3" cy="550.8" r="5.25"/>
<circle cx="596.1" cy="541.2" r="5.25"/>
<circle cx="595.5" cy="554.4" r="5.25"/>
<circle cx="604.5" cy="553.8" r="5.25"/>
<circle cx="597.9" cy="526.8" r="5.25"/>
<circle cx="532.4" cy="551.4" r="5.25"/>
<circle cx="615.6" cy="526.8" r="5.25"/>
<circle cx="466.8" cy="656.1" r="5.25"/>
<circle cx="473.4" cy="646.5" r="5.25"/>
</g>
</g>
<line x1="452.5" y1="538.5" x2="741.5" y2="538.5" stroke="#000" stroke-width="1.0"/>
<rect x="452.5" y="412.5" width="289.0" height="251.0" fill="none" stroke="#383838" stroke-width="1"/>
<path d="M515.5,663.5v-3.0M515.5,412.5v3.0M582.5,663.5v-3.0M582.5,412.5v3.0M649.5,663.5v-3.0M649.5,412.5v3.0M716.5,663.5v-3.0M716.5,412.5v3.0M452.5,412.5h3.0M741.5,412.5h-3.0M452.5,475.5h3.0M741.5,475.5h-3.0M452.5,538.5h3.0M741.5,538.5h-3.0M452.5,600.5h3.0M741.5,600.5h-3.0M452.5,663.5h3.0M741.5,663.5h-3.0" stroke="#383838" stroke-width="1"/>
<text x="416.23" y="416.50" font-size="14.53" stroke="#000" stroke-width="0.2" textLength="5.59" lengthAdjust="spacingAndGlyphs" fill="#000">1</text>
<text x="423.82" y="416.36" font-size="14.12" stroke="#000" stroke-width="0.2" textLength="9.40" lengthAdjust="spacingAndGlyphs" fill="#000">0</text>
<text x="433.86" y="416.36" font-size="14.12" stroke="#000" stroke-width="0.2" textLength="9.40" lengthAdjust="spacingAndGlyphs" fill="#000">0</text>
<text x="425.47" y="481.57" font-size="18.19" stroke="#000" stroke-width="0.2" textLength="8.09" lengthAdjust="spacingAndGlyphs" fill="#000">5</text>
<text x="433.86" y="479.11" font-size="14.12" stroke="#000" stroke-width="0.2" textLength="9.40" lengthAdjust="spacingAndGlyphs" fill="#000">0</text>
<text x="433.86" y="541.86" font-size="14.12" stroke="#000" stroke-width="0.2" textLength="9.40" lengthAdjust="spacingAndGlyphs" fill="#000">0</text>
<text x="420.32" y="604.01" font-size="16" stroke="#000" stroke-width="0.2" textLength="5.36" lengthAdjust="spacingAndGlyphs" fill="#000">-</text>
<text x="425.47" y="607.07" font-size="18.19" stroke="#000" stroke-width="0.2" textLength="8.09" lengthAdjust="spacingAndGlyphs" fill="#000">5</text>
<text x="433.86" y="604.61" font-size="14.12" stroke="#000" stroke-width="0.2" textLength="9.40" lengthAdjust="spacingAndGlyphs" fill="#000">0</text>
<text x="411.16" y="666.76" font-size="16" stroke="#000" stroke-width="0.2" textLength="5.36" lengthAdjust="spacingAndGlyphs" fill="#000">-</text>
<text x="416.23" y="667.50" font-size="14.53" stroke="#000" stroke-width="0.2" textLength="5.59" lengthAdjust="spacingAndGlyphs" fill="#000">1</text>
<text x="423.82" y="667.36" font-size="14.12" stroke="#000" stroke-width="0.2" textLength="9.40" lengthAdjust="spacingAndGlyphs" fill="#000">0</text>
<text x="433.86" y="667.36" font-size="14.12" stroke="#000" stroke-width="0.2" textLength="9.40" lengthAdjust="spacingAndGlyphs" fill="#000">0</text>
<text x="503.21" y="687.86" font-size="14.12" stroke="#000" stroke-width="0.2" textLength="9.40" lengthAdjust="spacingAndGlyphs" fill="#000">0</text>
<text x="512.07" y="688.00" font-size="15" stroke="#000" stroke-width="0.2" textLength="6.84" lengthAdjust="spacingAndGlyphs" fill="#000">.</text>
<text x="518.08" y="688.00" font-size="14.33" stroke="#000" stroke-width="0.2" textLength="8.41" lengthAdjust="spacingAndGlyphs" fill="#000">2</text>
<text x="570.07" y="687.86" font-size="14.12" stroke="#000" stroke-width="0.2" textLength="9.40" lengthAdjust="spacingAndGlyphs" fill="#000">0</text>
<text x="578.92" y="688.00" font-size="15" stroke="#000" stroke-width="0.2" textLength="6.84" lengthAdjust="spacingAndGlyphs" fill="#000">.</text>
<text x="585.13" y="690.50" font-size="18.46" stroke="#000" stroke-width="0.2" textLength="9.02" lengthAdjust="spacingAndGlyphs" fill="#000">4</text>
<text x="637.17" y="687.86" font-size="14.12" stroke="#000" stroke-width="0.2" textLength="9.40" lengthAdjust="spacingAndGlyphs" fill="#000">0</text>
<text x="646.02" y="688.00" font-size="15" stroke="#000" stroke-width="0.2" textLength="6.84" lengthAdjust="spacingAndGlyphs" fill="#000">.</text>
<text x="652.02" y="687.92" font-size="17.66" stroke="#000" stroke-width="0.2" textLength="9.51" lengthAdjust="spacingAndGlyphs" fill="#000">6</text>
<text x="704.27" y="687.86" font-size="14.12" stroke="#000" stroke-width="0.2" textLength="9.40" lengthAdjust="spacingAndGlyphs" fill="#000">0</text>
<text x="713.12" y="688.00" font-size="15" stroke="#000" stroke-width="0.2" textLength="6.84" lengthAdjust="spacingAndGlyphs" fill="#000">.</text>
<text x="719.27" y="687.92" font-size="17.66" stroke="#000" stroke-width="0.2" textLength="9.32" lengthAdjust="spacingAndGlyphs" fill="#000">8</text>
<text x="569.97" y="399.00" font-size="18.46" font-weight="bold" textLength="52.64" lengthAdjust="spacingAndGlyphs" fill="#000">GRNN</text>
<text transform="translate(411.10,622.80) rotate(-90)" x="0" y="0" font-size="18.5" font-weight="bold" textLength="164.60" lengthAdjust="spacingAndGlyphs">Relative deviation</text>
<text x="509.19" y="724.20" font-size="19" font-weight="bold" textLength="9.13" lengthAdjust="spacingAndGlyphs" fill="#000">x</text>
<text x="519.41" y="714.60" font-size="13" font-weight="bold" textLength="26.11" lengthAdjust="spacingAndGlyphs" fill="#000">exp</text>
<text x="519.76" y="733.30" font-size="12.94" font-weight="bold" textLength="9.09" lengthAdjust="spacingAndGlyphs" fill="#000">H</text>
<text x="531.65" y="744.70" font-size="7.59" font-weight="bold" textLength="5.55" lengthAdjust="spacingAndGlyphs" fill="#000">2</text>
<text x="537.54" y="733.37" font-size="13.14" font-weight="bold" textLength="8.35" lengthAdjust="spacingAndGlyphs" fill="#000">S</text>
<text x="549.73" y="724.20" font-size="19" font-weight="bold" textLength="134.94" lengthAdjust="spacingAndGlyphs" fill="#000">(mole fraction)</text>
<rect x="552.5" y="412.5" width="189.0" height="66.0" fill="#fff" stroke="#383838" stroke-width="1"/>
<rect x="579.2" y="421.5" width="7.8" height="7.8" fill="none" stroke="#f00" stroke-width="3.2"/>
<circle cx="583.1" cy="445.8" r="5.25" fill="none" stroke="#00f" stroke-width="3.5"/>
<line x1="557.3" y1="466.5" x2="608.2" y2="466.5" stroke="#000" stroke-width="1"/>
<text x="612.75" y="430.00" font-size="15" stroke="#000" stroke-width="0.2" textLength="99.04" lengthAdjust="spacingAndGlyphs" fill="#000">Training stage</text>
<text x="612.75" y="450.80" font-size="15" stroke="#000" stroke-width="0.2" textLength="92.63" lengthAdjust="spacingAndGlyphs" fill="#000">Testing stage</text>
<text x="611.77" y="470.90" font-size="15" stroke="#000" stroke-width="0.2" textLength="123.10" lengthAdjust="spacingAndGlyphs" fill="#000">Exact predictions</text>
<clipPath id="c5"><rect x="48.5" y="797.5" width="307.0" height="253.0"/></clipPath>
<g clip-path="url(#c5)">
<polygon points="52.0,852.0 90.0,852.0 90.0,870.0 126.0,870.0 126.0,874.0 136.0,874.0 136.0,880.0 148.0,880.0 148.0,884.0 182.0,884.0 182.0,882.0 195.0,882.0 195.0,887.8 224.5,887.8 224.5,892.0 244.0,892.0 244.0,897.4 261.0,897.4 261.0,903.0 280.0,903.0 280.0,924.0 240.0,924.0 240.0,937.0 213.0,937.0 213.0,950.6 201.7,950.6 201.7,971.5 180.8,971.5 170.0,984.3 169.5,983.0 129.6,983.0 129.6,978.6 105.3,978.6 105.3,989.0 88.0,989.0 88.0,1002.0 77.5,1002.0 77.5,1019.4 93.0,1019.4 93.0,1044.6 52.0,1044.6" fill="#f00"/>
<polygon points="60.8,815.4 71.6,815.4 71.6,826.6 67.6,826.6 67.6,833.8 71.2,833.8 71.2,844.3 65.6,844.3 65.6,849.5 54.8,849.5 54.8,839.5 57.6,839.5 57.6,820.2 60.8,820.2" fill="#f00"/>
<polygon points="93.0,1008.0 110.0,1002.0 128.0,1003.0 128.0,1018.0 93.0,1020.0" fill="#f00"/>
<g fill="none" stroke="#f00" stroke-width="3.1">
<rect x="92.3" y="802.8" width="7.6" height="7.6"/>
<rect x="74.6" y="827.6" width="7.6" height="7.6"/>
<rect x="137.9" y="857.2" width="7.6" height="7.6"/>
<rect x="268.1" y="897.9" width="7.6" height="7.6"/>
<rect x="272.4" y="905.2" width="7.6" height="7.6"/>
<rect x="285.2" y="902.2" width="7.6" height="7.6"/>
<rect x="298.0" y="900.0" width="7.6" height="7.6"/>
<rect x="307.7" y="915.0" width="7.6" height="7.6"/>
<rect x="317.2" y="926.7" width="7.6" height="7.6"/>
<rect x="333.3" y="900.0" width="7.6" height="7.6"/>
<rect x="345.0" y="900.0" width="7.6" height="7.6"/>
<rect x="337.6" y="911.8" width="7.6" height="7.6"/>
<rect x="261.7" y="898.9" width="7.6" height="7.6"/>
<rect x="261.7" y="928.8" width="7.6" height="7.6"/>
<rect x="266.0" y="932.1" width="7.6" height="7.6"/>
<rect x="278.8" y="911.8" width="7.6" height="7.6"/>
<rect x="298.0" y="908.6" width="7.6" height="7.6"/>
<rect x="227.5" y="940.6" width="7.6" height="7.6"/>
<rect x="241.4" y="941.7" width="7.6" height="7.6"/>
<rect x="233.9" y="926.7" width="7.6" height="7.6"/>
<rect x="191.2" y="954.2" width="7.6" height="7.6"/>
<rect x="192.2" y="963.2" width="7.6" height="7.6"/>
<rect x="226.7" y="940.4" width="7.6" height="7.6"/>
<rect x="241.9" y="941.2" width="7.6" height="7.6"/>
<rect x="191.5" y="962.1" width="7.6" height="7.6"/>
<rect x="170.6" y="963.7" width="7.6" height="7.6"/>
<rect x="160.2" y="965.2" width="7.6" height="7.6"/>
<rect x="161.8" y="973.3" width="7.6" height="7.6"/>
<rect x="192.2" y="954.1" width="7.6" height="7.6"/>
<rect x="262.8" y="930.8" width="7.6" height="7.6"/>
<rect x="268.4" y="930.8" width="7.6" height="7.6"/>
<rect x="87.6" y="1007.0" width="7.6" height="7.6"/>
<rect x="95.4" y="1002.6" width="7.6" height="7.6"/>
<rect x="103.2" y="997.4" width="7.6" height="7.6"/>
<rect x="109.3" y="994.8" width="7.6" height="7.6"/>
<rect x="117.1" y="995.7" width="7.6" height="7.6"/>
<rect x="125.8" y="1001.8" width="7.6" height="7.6"/>
<rect x="131.0" y="1001.8" width="7.6" height="7.6"/>
<rect x="92.8" y="1019.1" width="7.6" height="7.6"/>
<rect x="100.6" y="1019.1" width="7.6" height="7.6"/>
<rect x="109.3" y="1017.4" width="7.6" height="7.6"/>
<rect x="115.4" y="1015.6" width="7.6" height="7.6"/>
<rect x="121.5" y="1017.4" width="7.6" height="7.6"/>
<rect x="96.3" y="1031.2" width="7.6" height="7.6"/>
<rect x="103.2" y="1030.4" width="7.6" height="7.6"/>
<rect x="108.4" y="1030.4" width="7.6" height="7.6"/>
<rect x="91.1" y="1040.8" width="7.6" height="7.6"/>
<rect x="281.2" y="916.2" width="7.6" height="7.6"/>
<rect x="286.2" y="926.2" width="7.6" height="7.6"/>
<rect x="251.2" y="936.2" width="7.6" height="7.6"/>
<rect x="246.2" y="926.2" width="7.6" height="7.6"/>
</g>
<rect x="93.8" y="804.4" width="4.5" height="4.5" fill="#fff"/>
<rect x="76.2" y="829.1" width="4.5" height="4.5" fill="#fff"/>
<rect x="139.4" y="858.8" width="4.5" height="4.5" fill="#fff"/>
<rect x="89.2" y="1008.5" width="4.5" height="4.5" fill="#fff"/>
<rect x="97.0" y="1004.1" width="4.5" height="4.5" fill="#fff"/>
<rect x="104.8" y="999.0" width="4.5" height="4.5" fill="#fff"/>
<rect x="110.8" y="996.4" width="4.5" height="4.5" fill="#fff"/>
<rect x="118.7" y="997.2" width="4.5" height="4.5" fill="#fff"/>
<rect x="127.3" y="1003.4" width="4.5" height="4.5" fill="#fff"/>
<rect x="94.3" y="1020.6" width="4.5" height="4.5" fill="#fff"/>
<rect x="102.2" y="1020.6" width="4.5" height="4.5" fill="#fff"/>
<rect x="110.8" y="1019.0" width="4.5" height="4.5" fill="#fff"/>
<rect x="117.0" y="1017.1" width="4.5" height="4.5" fill="#fff"/>
<rect x="123.0" y="1019.0" width="4.5" height="4.5" fill="#fff"/>
<rect x="97.8" y="1032.8" width="4.5" height="4.5" fill="#fff"/>
<rect x="104.8" y="1032.0" width="4.5" height="4.5" fill="#fff"/>
<rect x="110.0" y="1032.0" width="4.5" height="4.5" fill="#fff"/>
<rect x="193.1" y="963.6" width="4.5" height="4.5" fill="#fff"/>
<rect x="172.2" y="965.2" width="4.5" height="4.5" fill="#fff"/>
<rect x="161.8" y="966.8" width="4.5" height="4.5" fill="#fff"/>
<rect x="163.3" y="974.9" width="4.5" height="4.5" fill="#fff"/>
<rect x="228.2" y="942.0" width="4.5" height="4.5" fill="#fff"/>
<rect x="243.4" y="942.8" width="4.5" height="4.5" fill="#fff"/>
<rect x="193.8" y="955.6" width="4.5" height="4.5" fill="#fff"/>
<rect x="63.5" y="818.5" width="4.5" height="4.5" fill="#fff"/>
<rect x="59.4" y="825.8" width="4.5" height="4.5" fill="#fff"/>
<rect x="62.5" y="831.8" width="4.5" height="4.5" fill="#fff"/>
<rect x="65.5" y="836.0" width="4.5" height="4.5" fill="#fff"/>
<rect x="95.8" y="877.8" width="4.5" height="4.5" fill="#fff"/>
<rect x="112.8" y="872.8" width="4.5" height="4.5" fill="#fff"/>
<rect x="127.8" y="887.8" width="4.5" height="4.5" fill="#fff"/>
<rect x="147.8" y="887.8" width="4.5" height="4.5" fill="#fff"/>
<rect x="197.8" y="887.8" width="4.5" height="4.5" fill="#fff"/>
<rect x="177.8" y="947.8" width="4.5" height="4.5" fill="#fff"/>
<rect x="117.8" y="957.8" width="4.5" height="4.5" fill="#fff"/>
<rect x="147.8" y="972.8" width="4.5" height="4.5" fill="#fff"/>
<rect x="157.8" y="975.8" width="4.5" height="4.5" fill="#fff"/>
<rect x="97.8" y="972.8" width="4.5" height="4.5" fill="#fff"/>
<rect x="237.8" y="909.8" width="4.5" height="4.5" fill="#fff"/>
<rect x="212.8" y="927.8" width="4.5" height="4.5" fill="#fff"/>
<rect x="227.8" y="932.8" width="4.5" height="4.5" fill="#fff"/>
<rect x="123.8" y="879.1" width="4.0" height="4.0" fill="#fff"/>
<rect x="193.8" y="963.3" width="4.0" height="2.0" fill="#fff"/>
<rect x="100.4" y="957.8" width="4.0" height="2.8" fill="#fff"/>
<rect x="146.2" y="955.1" width="2.8" height="2.0" fill="#fff"/>
<rect x="98.0" y="981.6" width="2.0" height="2.8" fill="#fff"/>
<rect x="152.3" y="967.3" width="4.0" height="4.0" fill="#fff"/>
<rect x="121.6" y="961.9" width="2.0" height="2.8" fill="#fff"/>
<rect x="172.5" y="967.4" width="2.8" height="4.0" fill="#fff"/>
<rect x="73.9" y="916.6" width="2.8" height="2.8" fill="#fff"/>
<rect x="80.0" y="880.1" width="2.0" height="2.0" fill="#fff"/>
<rect x="105.4" y="963.9" width="2.8" height="2.0" fill="#fff"/>
<rect x="165.8" y="958.8" width="4.0" height="2.8" fill="#fff"/>
<rect x="188.8" y="889.0" width="2.8" height="2.8" fill="#fff"/>
<rect x="153.0" y="930.8" width="2.0" height="2.8" fill="#fff"/>
<rect x="148.3" y="891.0" width="2.8" height="4.0" fill="#fff"/>
<rect x="127.9" y="887.7" width="2.8" height="4.0" fill="#fff"/>
<rect x="54.7" y="914.8" width="2.8" height="2.0" fill="#fff"/>
<rect x="109.4" y="967.1" width="4.0" height="4.0" fill="#fff"/>
<rect x="193.3" y="952.9" width="4.0" height="2.8" fill="#fff"/>
<rect x="54.2" y="948.4" width="4.0" height="2.0" fill="#fff"/>
<rect x="274.0" y="916.6" width="4.0" height="2.8" fill="#fff"/>
<rect x="202.3" y="924.4" width="2.8" height="2.0" fill="#fff"/>
<rect x="270.8" y="909.6" width="2.8" height="4.0" fill="#fff"/>
<rect x="70.5" y="927.5" width="4.0" height="2.8" fill="#fff"/>
<rect x="111.3" y="890.4" width="4.0" height="4.0" fill="#fff"/>
<rect x="185.3" y="920.1" width="2.0" height="2.8" fill="#fff"/>
<rect x="244.8" y="905.1" width="4.0" height="2.0" fill="#fff"/>
<rect x="167.1" y="887.2" width="2.8" height="2.8" fill="#fff"/>
<rect x="88.2" y="882.1" width="4.0" height="2.0" fill="#fff"/>
<rect x="71.4" y="897.1" width="2.8" height="2.0" fill="#fff"/>
<rect x="197.8" y="933.2" width="2.8" height="4.0" fill="#fff"/>
<rect x="84.7" y="1038.2" width="4.0" height="2.0" fill="#fff"/>
<rect x="185.9" y="930.0" width="4.0" height="4.0" fill="#fff"/>
<rect x="158.9" y="921.8" width="2.0" height="4.0" fill="#fff"/>
<rect x="158.2" y="972.7" width="4.0" height="2.0" fill="#fff"/>
<rect x="189.1" y="913.7" width="2.8" height="2.8" fill="#fff"/>
<rect x="70.2" y="869.6" width="2.0" height="2.0" fill="#fff"/>
<rect x="80.3" y="939.8" width="4.0" height="2.0" fill="#fff"/>
<rect x="111.6" y="898.9" width="2.8" height="4.0" fill="#fff"/>
<rect x="54.8" y="998.7" width="2.8" height="2.0" fill="#fff"/>
<rect x="191.9" y="921.4" width="4.0" height="4.0" fill="#fff"/>
<rect x="157.8" y="959.5" width="4.0" height="2.8" fill="#fff"/>
<rect x="65.9" y="919.1" width="2.8" height="4.0" fill="#fff"/>
<rect x="104.1" y="921.7" width="4.0" height="4.0" fill="#fff"/>
<rect x="117.3" y="971.5" width="2.0" height="2.0" fill="#fff"/>
<rect x="65.5" y="971.6" width="2.0" height="2.0" fill="#fff"/>
<rect x="172.3" y="940.9" width="4.0" height="4.0" fill="#fff"/>
<rect x="55.4" y="899.4" width="2.8" height="4.0" fill="#fff"/>
<rect x="239.7" y="900.8" width="4.0" height="2.8" fill="#fff"/>
<rect x="102.8" y="882.5" width="4.0" height="2.8" fill="#fff"/>
<rect x="56.3" y="890.3" width="2.8" height="2.8" fill="#fff"/>
<rect x="89.3" y="935.5" width="2.8" height="2.0" fill="#fff"/>
<rect x="92.4" y="874.5" width="2.0" height="2.8" fill="#fff"/>
<rect x="123.0" y="944.4" width="4.0" height="2.0" fill="#fff"/>
<rect x="143.6" y="961.2" width="2.0" height="2.8" fill="#fff"/>
<rect x="179.1" y="962.0" width="4.0" height="2.8" fill="#fff"/>
<rect x="181.1" y="934.5" width="4.0" height="4.0" fill="#fff"/>
<rect x="240.0" y="911.8" width="4.0" height="4.0" fill="#fff"/>
<rect x="134.7" y="939.3" width="4.0" height="4.0" fill="#fff"/>
<rect x="58.9" y="921.8" width="2.0" height="2.8" fill="#fff"/>
<rect x="82.6" y="981.1" width="4.0" height="2.8" fill="#fff"/>
<rect x="153.1" y="916.0" width="4.0" height="2.8" fill="#fff"/>
<rect x="167.1" y="972.5" width="4.0" height="2.0" fill="#fff"/>
<rect x="72.2" y="905.7" width="4.0" height="4.0" fill="#fff"/>
<rect x="146.9" y="927.5" width="2.0" height="2.0" fill="#fff"/>
<rect x="55.6" y="956.7" width="2.8" height="2.8" fill="#fff"/>
<rect x="118.4" y="954.0" width="4.0" height="2.8" fill="#fff"/>
<rect x="131.3" y="883.6" width="2.8" height="2.0" fill="#fff"/>
<rect x="201.5" y="915.8" width="4.0" height="4.0" fill="#fff"/>
<rect x="80.5" y="987.1" width="2.8" height="2.0" fill="#fff"/>
<circle cx="113" cy="910" r="7" fill="#00f"/>
<circle cx="120" cy="909" r="7" fill="#00f"/>
<circle cx="127" cy="908" r="7" fill="#00f"/>
<circle cx="134" cy="909" r="7" fill="#00f"/>
<circle cx="141" cy="910" r="7" fill="#00f"/>
<circle cx="115" cy="918" r="7" fill="#00f"/>
<circle cx="123" cy="918" r="7" fill="#00f"/>
<circle cx="131" cy="918" r="7" fill="#00f"/>
<circle cx="139" cy="918" r="7" fill="#00f"/>
<circle cx="145" cy="917" r="7" fill="#00f"/>
<circle cx="112" cy="920" r="6" fill="#00f"/>
<circle cx="128" cy="922" r="6" fill="#00f"/>
<g fill="none" stroke="#00f" stroke-width="3.5">
<circle cx="55.2" cy="841.0" r="5.25"/>
<circle cx="61.6" cy="859.5" r="5.25"/>
<circle cx="82.5" cy="861.9" r="5.25"/>
<circle cx="63.0" cy="875.0" r="5.25"/>
<circle cx="67.0" cy="887.0" r="5.25"/>
<circle cx="73.0" cy="888.0" r="5.25"/>
<circle cx="89.0" cy="893.0" r="5.25"/>
<circle cx="115.0" cy="883.0" r="5.25"/>
<circle cx="103.0" cy="901.0" r="5.25"/>
<circle cx="64.0" cy="907.0" r="5.25"/>
<circle cx="83.0" cy="914.0" r="5.25"/>
<circle cx="96.0" cy="911.0" r="5.25"/>
<circle cx="132.0" cy="898.0" r="5.25"/>
<circle cx="159.0" cy="894.0" r="5.25"/>
<circle cx="154.0" cy="902.0" r="5.25"/>
<circle cx="170.0" cy="897.0" r="5.25"/>
<circle cx="181.0" cy="892.0" r="5.25"/>
<circle cx="190.0" cy="902.0" r="5.25"/>
<circle cx="198.0" cy="908.0" r="5.25"/>
<circle cx="168.0" cy="912.0" r="5.25"/>
<circle cx="174.0" cy="910.0" r="5.25"/>
<circle cx="166.0" cy="916.0" r="5.25"/>
<circle cx="144.0" cy="908.0" r="5.25"/>
<circle cx="82.0" cy="932.0" r="5.25"/>
<circle cx="58.0" cy="940.0" r="5.25"/>
<circle cx="65.0" cy="934.0" r="5.25"/>
<circle cx="72.0" cy="944.0" r="5.25"/>
<circle cx="66.0" cy="948.0" r="5.25"/>
<circle cx="88.0" cy="928.0" r="5.25"/>
<circle cx="104.0" cy="932.0" r="5.25"/>
<circle cx="105.0" cy="940.0" r="5.25"/>
<circle cx="92.0" cy="945.0" r="5.25"/>
<circle cx="86.0" cy="950.0" r="5.25"/>
<circle cx="111.0" cy="949.0" r="5.25"/>
<circle cx="126.0" cy="936.0" r="5.25"/>
<circle cx="122.0" cy="930.0" r="5.25"/>
<circle cx="137.0" cy="931.0" r="5.25"/>
<circle cx="146.0" cy="945.0" r="5.25"/>
<circle cx="139.0" cy="950.0" r="5.25"/>
<circle cx="162.0" cy="949.0" r="5.25"/>
<circle cx="166.0" cy="932.0" r="5.25"/>
<circle cx="170.0" cy="934.0" r="5.25"/>
<circle cx="175.0" cy="928.0" r="5.25"/>
<circle cx="181.0" cy="954.0" r="5.25"/>
<circle cx="68.0" cy="960.0" r="5.25"/>
<circle cx="74.0" cy="960.0" r="5.25"/>
<circle cx="251.6" cy="898.0" r="5.25"/>
<circle cx="261.2" cy="907.0" r="5.25"/>
<circle cx="260.2" cy="915.6" r="5.25"/>
<circle cx="292.2" cy="923.7" r="5.25"/>
<circle cx="233.5" cy="927.3" r="5.25"/>
<circle cx="230.3" cy="901.7" r="5.25"/>
<circle cx="234.5" cy="909.1" r="5.25"/>
<circle cx="230.3" cy="914.5" r="5.25"/>
<circle cx="221.7" cy="917.7" r="5.25"/>
<circle cx="217.4" cy="897.4" r="5.25"/>
<circle cx="204.6" cy="897.4" r="5.25"/>
<circle cx="207.8" cy="899.5" r="5.25"/>
<circle cx="202.5" cy="944.4" r="5.25"/>
<circle cx="211.0" cy="958.3" r="5.25"/>
<circle cx="220.6" cy="953.0" r="5.25"/>
<circle cx="68.0" cy="963.0" r="5.25"/>
<circle cx="75.8" cy="963.9" r="5.25"/>
<circle cx="79.3" cy="972.6" r="5.25"/>
<circle cx="74.0" cy="978.6" r="5.25"/>
<circle cx="90.5" cy="963.0" r="5.25"/>
<circle cx="91.4" cy="967.4" r="5.25"/>
<circle cx="94.0" cy="971.7" r="5.25"/>
<circle cx="60.2" cy="986.5" r="5.25"/>
<circle cx="70.6" cy="992.5" r="5.25"/>
<circle cx="73.2" cy="996.0" r="5.25"/>
<circle cx="69.7" cy="1007.3" r="5.25"/>
<circle cx="73.2" cy="1020.3" r="5.25"/>
<circle cx="61.9" cy="1024.7" r="5.25"/>
<circle cx="64.5" cy="1035.0" r="5.25"/>
<circle cx="72.3" cy="1033.3" r="5.25"/>
<circle cx="84.5" cy="1030.7" r="5.25"/>
<circle cx="78.4" cy="1043.8" r="5.25"/>
<circle cx="128.7" cy="975.2" r="5.25"/>
<circle cx="139.1" cy="973.4" r="5.25"/>
<circle cx="67.1" cy="951.7" r="5.25"/>
<circle cx="86.2" cy="952.6" r="5.25"/>
<circle cx="111.4" cy="951.7" r="5.25"/>
<circle cx="138.3" cy="952.6" r="5.25"/>
<circle cx="161.7" cy="951.7" r="5.25"/>
<circle cx="177.3" cy="955.2" r="5.25"/>
<circle cx="164.2" cy="913.4" r="5.25"/>
<circle cx="98.7" cy="913.4" r="5.25"/>
<circle cx="100.6" cy="932.0" r="5.25"/>
<circle cx="145.5" cy="942.3" r="5.25"/>
<circle cx="123.0" cy="934.0" r="5.25"/>
<circle cx="112.0" cy="910.0" r="5.25"/>
<circle cx="118.0" cy="908.0" r="5.25"/>
<circle cx="125.0" cy="907.0" r="5.25"/>
<circle cx="140.0" cy="912.0" r="5.25"/>
<circle cx="115.0" cy="918.0" r="5.25"/>
<circle cx="130.0" cy="920.0" r="5.25"/>
<circle cx="145.0" cy="918.0" r="5.25"/>
</g>
</g>
<line x1="54.5" y1="924.5" x2="349.5" y2="924.5" stroke="#000" stroke-width="1.0"/>
<rect x="54.5" y="803.5" width="295.0" height="241.0" fill="none" stroke="#383838" stroke-width="1"/>
<path d="M119.5,1044.5v-3.0M119.5,803.5v3.0M186.5,1044.5v-3.0M186.5,803.5v3.0M253.5,1044.5v-3.0M253.5,803.5v3.0M320.5,1044.5v-3.0M320.5,803.5v3.0M54.5,803.5h3.0M349.5,803.5h-3.0M54.5,863.5h3.0M349.5,863.5h-3.0M54.5,924.5h3.0M349.5,924.5h-3.0M54.5,984.5h3.0M349.5,984.5h-3.0M54.5,1044.5h3.0M349.5,1044.5h-3.0" stroke="#383838" stroke-width="1"/>
<text x="18.59" y="807.50" font-size="14.53" stroke="#000" stroke-width="0.2" textLength="5.62" lengthAdjust="spacingAndGlyphs" fill="#000">1</text>
<text x="26.22" y="807.36" font-size="14.12" stroke="#000" stroke-width="0.2" textLength="9.45" lengthAdjust="spacingAndGlyphs" fill="#000">0</text>
<text x="36.32" y="807.36" font-size="14.12" stroke="#000" stroke-width="0.2" textLength="9.45" lengthAdjust="spacingAndGlyphs" fill="#000">0</text>
<text x="27.88" y="870.07" font-size="18.19" stroke="#000" stroke-width="0.2" textLength="8.13" lengthAdjust="spacingAndGlyphs" fill="#000">5</text>
<text x="36.32" y="867.61" font-size="14.12" stroke="#000" stroke-width="0.2" textLength="9.45" lengthAdjust="spacingAndGlyphs" fill="#000">0</text>
<text x="36.32" y="927.86" font-size="14.12" stroke="#000" stroke-width="0.2" textLength="9.45" lengthAdjust="spacingAndGlyphs" fill="#000">0</text>
<text x="22.71" y="987.51" font-size="16" stroke="#000" stroke-width="0.2" textLength="5.38" lengthAdjust="spacingAndGlyphs" fill="#000">-</text>
<text x="27.88" y="990.57" font-size="18.19" stroke="#000" stroke-width="0.2" textLength="8.13" lengthAdjust="spacingAndGlyphs" fill="#000">5</text>
<text x="36.32" y="988.11" font-size="14.12" stroke="#000" stroke-width="0.2" textLength="9.45" lengthAdjust="spacingAndGlyphs" fill="#000">0</text>
<text x="13.50" y="1047.76" font-size="16" stroke="#000" stroke-width="0.2" textLength="5.38" lengthAdjust="spacingAndGlyphs" fill="#000">-</text>
<text x="18.59" y="1048.50" font-size="14.53" stroke="#000" stroke-width="0.2" textLength="5.62" lengthAdjust="spacingAndGlyphs" fill="#000">1</text>
<text x="26.22" y="1048.36" font-size="14.12" stroke="#000" stroke-width="0.2" textLength="9.45" lengthAdjust="spacingAndGlyphs" fill="#000">0</text>
<text x="36.32" y="1048.36" font-size="14.12" stroke="#000" stroke-width="0.2" textLength="9.45" lengthAdjust="spacingAndGlyphs" fill="#000">0</text>
<text x="107.05" y="1068.66" font-size="14.12" stroke="#000" stroke-width="0.2" textLength="9.45" lengthAdjust="spacingAndGlyphs" fill="#000">0</text>
<text x="115.95" y="1068.80" font-size="15" stroke="#000" stroke-width="0.2" textLength="6.88" lengthAdjust="spacingAndGlyphs" fill="#000">.</text>
<text x="122.00" y="1068.80" font-size="14.33" stroke="#000" stroke-width="0.2" textLength="8.45" lengthAdjust="spacingAndGlyphs" fill="#000">2</text>
<text x="173.90" y="1068.66" font-size="14.12" stroke="#000" stroke-width="0.2" textLength="9.45" lengthAdjust="spacingAndGlyphs" fill="#000">0</text>
<text x="182.81" y="1068.80" font-size="15" stroke="#000" stroke-width="0.2" textLength="6.88" lengthAdjust="spacingAndGlyphs" fill="#000">.</text>
<text x="189.04" y="1071.30" font-size="18.46" stroke="#000" stroke-width="0.2" textLength="9.07" lengthAdjust="spacingAndGlyphs" fill="#000">4</text>
<text x="240.70" y="1068.66" font-size="14.12" stroke="#000" stroke-width="0.2" textLength="9.45" lengthAdjust="spacingAndGlyphs" fill="#000">0</text>
<text x="249.61" y="1068.80" font-size="15" stroke="#000" stroke-width="0.2" textLength="6.88" lengthAdjust="spacingAndGlyphs" fill="#000">.</text>
<text x="255.64" y="1068.72" font-size="17.66" stroke="#000" stroke-width="0.2" textLength="9.55" lengthAdjust="spacingAndGlyphs" fill="#000">6</text>
<text x="308.00" y="1068.66" font-size="14.12" stroke="#000" stroke-width="0.2" textLength="9.45" lengthAdjust="spacingAndGlyphs" fill="#000">0</text>
<text x="316.91" y="1068.80" font-size="15" stroke="#000" stroke-width="0.2" textLength="6.88" lengthAdjust="spacingAndGlyphs" fill="#000">.</text>
<text x="323.09" y="1068.72" font-size="17.66" stroke="#000" stroke-width="0.2" textLength="9.37" lengthAdjust="spacingAndGlyphs" fill="#000">8</text>
<text x="170.84" y="789.50" font-size="17.73" font-weight="bold" textLength="60.84" lengthAdjust="spacingAndGlyphs" fill="#000">RBFNN</text>
<text transform="translate(18.90,1006.98) rotate(-90)" x="0" y="0" font-size="17.8" font-weight="bold" textLength="162.97" lengthAdjust="spacingAndGlyphs">Relative deviation</text>
<text x="116.08" y="1104.20" font-size="19" font-weight="bold" textLength="9.85" lengthAdjust="spacingAndGlyphs" fill="#000">x</text>
<text x="126.29" y="1094.00" font-size="13" font-weight="bold" textLength="26.85" lengthAdjust="spacingAndGlyphs" fill="#000">exp</text>
<text x="126.85" y="1114.00" font-size="13.23" font-weight="bold" textLength="9.21" lengthAdjust="spacingAndGlyphs" fill="#000">H</text>
<text x="138.11" y="1126.50" font-size="9.03" font-weight="bold" textLength="4.62" lengthAdjust="spacingAndGlyphs" fill="#000">2</text>
<text x="144.11" y="1114.07" font-size="13.42" font-weight="bold" textLength="8.91" lengthAdjust="spacingAndGlyphs" fill="#000">S</text>
<text x="156.98" y="1104.20" font-size="19" font-weight="bold" textLength="128.35" lengthAdjust="spacingAndGlyphs" fill="#000">(mole fraction)</text>
<rect x="165.5" y="803.5" width="184.0" height="65.0" fill="#fff" stroke="#383838" stroke-width="1"/>
<rect x="191.1" y="812.5" width="7.8" height="7.8" fill="none" stroke="#f00" stroke-width="3.2"/>
<circle cx="195.0" cy="836.4" r="5.25" fill="none" stroke="#00f" stroke-width="3.5"/>
<line x1="171.0" y1="857.5" x2="219.9" y2="857.5" stroke="#000" stroke-width="1"/>
<text x="224.67" y="821.70" font-size="15" stroke="#000" stroke-width="0.2" textLength="95.19" lengthAdjust="spacingAndGlyphs" fill="#000">Training stage</text>
<text x="224.67" y="841.70" font-size="15" stroke="#000" stroke-width="0.2" textLength="89.04" lengthAdjust="spacingAndGlyphs" fill="#000">Testing stage</text>
<text x="223.72" y="861.80" font-size="15" stroke="#000" stroke-width="0.2" textLength="118.74" lengthAdjust="spacingAndGlyphs" fill="#000">Exact predictions</text>
<clipPath id="c6"><rect x="447.5" y="798.5" width="300.0" height="251.0"/></clipPath>
<g clip-path="url(#c6)">
<polygon points="448.2,894.0 458.4,894.0 458.4,892.0 486.4,892.0 486.4,900.7 501.0,900.7 501.0,906.0 511.8,906.0 511.8,903.4 534.5,903.4 534.5,898.7 556.0,899.4 556.0,904.0 581.4,904.0 581.4,908.0 609.4,908.0 609.4,910.0 632.0,910.0 632.0,913.0 660.0,913.0 660.0,915.7 700.0,915.7 700.0,932.4 647.0,934.0 630.0,932.4 601.4,930.7 601.4,941.4 586.7,941.4 586.7,942.7 525.0,947.1 493.0,947.1 492.0,957.8 485.6,962.0 477.0,970.6 466.4,978.0 468.0,989.8 454.0,989.8 454.0,978.0 448.2,962.0" fill="#f00"/>
<polygon points="457.7,872.0 469.0,872.0 469.0,882.0 471.7,882.0 471.7,894.0 457.7,894.0" fill="#f00"/>
<polygon points="457.8,1008.5 469.6,1008.5 469.6,1019.2 457.8,1019.2" fill="#f00"/>
<g fill="none" stroke="#f00" stroke-width="3.1">
<rect x="450.5" y="859.6" width="7.6" height="7.6"/>
<rect x="459.2" y="872.9" width="7.6" height="7.6"/>
<rect x="700.9" y="919.8" width="7.6" height="7.6"/>
<rect x="709.7" y="922.2" width="7.6" height="7.6"/>
<rect x="723.2" y="919.8" width="7.6" height="7.6"/>
<rect x="729.5" y="919.8" width="7.6" height="7.6"/>
<rect x="737.5" y="919.8" width="7.6" height="7.6"/>
<rect x="461.5" y="1010.1" width="7.6" height="7.6"/>
</g>
<rect x="452.1" y="861.1" width="4.5" height="4.5" fill="#fff"/>
<rect x="460.8" y="874.5" width="4.5" height="4.5" fill="#fff"/>
<rect x="456.6" y="962.0" width="4.5" height="4.5" fill="#fff"/>
<rect x="458.8" y="969.5" width="4.5" height="4.5" fill="#fff"/>
<rect x="485.4" y="950.1" width="4.5" height="4.5" fill="#fff"/>
<rect x="477.4" y="954.0" width="4.5" height="4.5" fill="#fff"/>
<rect x="457.8" y="953.4" width="4.5" height="4.5" fill="#fff"/>
<rect x="469.4" y="964.0" width="4.5" height="4.5" fill="#fff"/>
<rect x="702.5" y="921.4" width="4.5" height="4.5" fill="#fff"/>
<rect x="711.2" y="923.8" width="4.5" height="4.5" fill="#fff"/>
<rect x="724.8" y="921.4" width="4.5" height="4.5" fill="#fff"/>
<rect x="739.0" y="921.4" width="4.5" height="4.5" fill="#fff"/>
<polygon points="456.0,915.0 545.0,917.0 560.0,919.0 560.0,927.0 545.0,929.0 456.0,930.0" fill="#00f"/>
<g fill="none" stroke="#00f" stroke-width="3.5">
<circle cx="461.0" cy="898.0" r="5.25"/>
<circle cx="478.4" cy="896.7" r="5.25"/>
<circle cx="493.7" cy="902.0" r="5.25"/>
<circle cx="517.8" cy="905.4" r="5.25"/>
<circle cx="527.1" cy="906.0" r="5.25"/>
<circle cx="543.8" cy="904.7" r="5.25"/>
<circle cx="461.0" cy="916.1" r="5.25"/>
<circle cx="483.7" cy="908.7" r="5.25"/>
<circle cx="459.7" cy="946.1" r="5.25"/>
<circle cx="475.7" cy="942.1" r="5.25"/>
<circle cx="471.7" cy="940.8" r="5.25"/>
<circle cx="514.4" cy="940.8" r="5.25"/>
<circle cx="519.1" cy="942.1" r="5.25"/>
<circle cx="531.8" cy="936.8" r="5.25"/>
<circle cx="483.7" cy="931.4" r="5.25"/>
<circle cx="458.4" cy="931.4" r="5.25"/>
<circle cx="458.9" cy="1013.9" r="5.25"/>
<circle cx="477.0" cy="946.0" r="5.25"/>
<circle cx="572.7" cy="911.4" r="5.25"/>
<circle cx="591.4" cy="935.4" r="5.25"/>
<circle cx="542.7" cy="928.0" r="5.25"/>
<circle cx="565.4" cy="929.4" r="5.25"/>
<circle cx="613.4" cy="924.0" r="5.25"/>
<circle cx="625.4" cy="925.4" r="5.25"/>
<circle cx="634.8" cy="921.4" r="5.25"/>
<circle cx="647.5" cy="923.6" r="5.25"/>
<circle cx="653.8" cy="924.4" r="5.25"/>
<circle cx="659.4" cy="922.8" r="5.25"/>
<circle cx="666.6" cy="923.6" r="5.25"/>
<circle cx="563.6" cy="922.0" r="5.25"/>
<circle cx="578.0" cy="921.0" r="5.25"/>
<circle cx="600.0" cy="924.0" r="5.25"/>
<circle cx="626.5" cy="923.0" r="5.25"/>
<circle cx="471.3" cy="915.6" r="5.25"/>
<circle cx="479.1" cy="915.5" r="5.25"/>
<circle cx="487.9" cy="916.2" r="5.25"/>
<circle cx="498.6" cy="915.6" r="5.25"/>
<circle cx="505.7" cy="915.0" r="5.25"/>
<circle cx="515.6" cy="916.3" r="5.25"/>
<circle cx="525.8" cy="915.6" r="5.25"/>
<circle cx="534.9" cy="916.4" r="5.25"/>
<circle cx="465.8" cy="928.6" r="5.25"/>
<circle cx="475.0" cy="929.6" r="5.25"/>
<circle cx="492.9" cy="928.2" r="5.25"/>
<circle cx="502.1" cy="929.6" r="5.25"/>
<circle cx="509.7" cy="928.8" r="5.25"/>
<circle cx="519.8" cy="930.1" r="5.25"/>
<circle cx="530.3" cy="928.6" r="5.25"/>
<circle cx="539.2" cy="929.9" r="5.25"/>
<circle cx="469.3" cy="921.9" r="5.25"/>
<circle cx="480.9" cy="922.9" r="5.25"/>
<circle cx="494.5" cy="923.2" r="5.25"/>
<circle cx="506.9" cy="922.5" r="5.25"/>
<circle cx="518.7" cy="922.2" r="5.25"/>
<circle cx="528.8" cy="922.3" r="5.25"/>
</g>
</g>
<line x1="453.5" y1="924.5" x2="741.5" y2="924.5" stroke="#000" stroke-width="1.0"/>
<rect x="453.5" y="804.5" width="288.0" height="239.0" fill="none" stroke="#383838" stroke-width="1"/>
<path d="M515.5,1043.5v-3.0M515.5,804.5v3.0M582.5,1043.5v-3.0M582.5,804.5v3.0M649.5,1043.5v-3.0M649.5,804.5v3.0M716.5,1043.5v-3.0M716.5,804.5v3.0M453.5,804.5h3.0M741.5,804.5h-3.0M453.5,864.5h3.0M741.5,864.5h-3.0M453.5,924.5h3.0M741.5,924.5h-3.0M453.5,983.5h3.0M741.5,983.5h-3.0M453.5,1043.5h3.0M741.5,1043.5h-3.0" stroke="#383838" stroke-width="1"/>
<text x="416.96" y="808.50" font-size="14.53" stroke="#000" stroke-width="0.2" textLength="5.56" lengthAdjust="spacingAndGlyphs" fill="#000">1</text>
<text x="424.51" y="808.36" font-size="14.12" stroke="#000" stroke-width="0.2" textLength="9.35" lengthAdjust="spacingAndGlyphs" fill="#000">0</text>
<text x="434.51" y="808.36" font-size="14.12" stroke="#000" stroke-width="0.2" textLength="9.35" lengthAdjust="spacingAndGlyphs" fill="#000">0</text>
<text x="426.16" y="870.57" font-size="18.19" stroke="#000" stroke-width="0.2" textLength="8.05" lengthAdjust="spacingAndGlyphs" fill="#000">5</text>
<text x="434.51" y="868.11" font-size="14.12" stroke="#000" stroke-width="0.2" textLength="9.35" lengthAdjust="spacingAndGlyphs" fill="#000">0</text>
<text x="434.51" y="927.86" font-size="14.12" stroke="#000" stroke-width="0.2" textLength="9.35" lengthAdjust="spacingAndGlyphs" fill="#000">0</text>
<text x="421.03" y="987.01" font-size="16" stroke="#000" stroke-width="0.2" textLength="5.33" lengthAdjust="spacingAndGlyphs" fill="#000">-</text>
<text x="426.16" y="990.07" font-size="18.19" stroke="#000" stroke-width="0.2" textLength="8.05" lengthAdjust="spacingAndGlyphs" fill="#000">5</text>
<text x="434.51" y="987.61" font-size="14.12" stroke="#000" stroke-width="0.2" textLength="9.35" lengthAdjust="spacingAndGlyphs" fill="#000">0</text>
<text x="411.92" y="1046.76" font-size="16" stroke="#000" stroke-width="0.2" textLength="5.33" lengthAdjust="spacingAndGlyphs" fill="#000">-</text>
<text x="416.96" y="1047.50" font-size="14.53" stroke="#000" stroke-width="0.2" textLength="5.56" lengthAdjust="spacingAndGlyphs" fill="#000">1</text>
<text x="424.51" y="1047.36" font-size="14.12" stroke="#000" stroke-width="0.2" textLength="9.35" lengthAdjust="spacingAndGlyphs" fill="#000">0</text>
<text x="434.51" y="1047.36" font-size="14.12" stroke="#000" stroke-width="0.2" textLength="9.35" lengthAdjust="spacingAndGlyphs" fill="#000">0</text>
<text x="504.07" y="1068.56" font-size="14.12" stroke="#000" stroke-width="0.2" textLength="9.35" lengthAdjust="spacingAndGlyphs" fill="#000">0</text>
<text x="512.88" y="1068.70" font-size="15" stroke="#000" stroke-width="0.2" textLength="6.81" lengthAdjust="spacingAndGlyphs" fill="#000">.</text>
<text x="518.87" y="1068.70" font-size="14.33" stroke="#000" stroke-width="0.2" textLength="8.37" lengthAdjust="spacingAndGlyphs" fill="#000">2</text>
<text x="570.53" y="1068.56" font-size="14.12" stroke="#000" stroke-width="0.2" textLength="9.35" lengthAdjust="spacingAndGlyphs" fill="#000">0</text>
<text x="579.34" y="1068.70" font-size="15" stroke="#000" stroke-width="0.2" textLength="6.81" lengthAdjust="spacingAndGlyphs" fill="#000">.</text>
<text x="585.51" y="1071.20" font-size="18.46" stroke="#000" stroke-width="0.2" textLength="8.98" lengthAdjust="spacingAndGlyphs" fill="#000">4</text>
<text x="637.23" y="1068.56" font-size="14.12" stroke="#000" stroke-width="0.2" textLength="9.35" lengthAdjust="spacingAndGlyphs" fill="#000">0</text>
<text x="646.04" y="1068.70" font-size="15" stroke="#000" stroke-width="0.2" textLength="6.81" lengthAdjust="spacingAndGlyphs" fill="#000">.</text>
<text x="652.01" y="1068.62" font-size="17.66" stroke="#000" stroke-width="0.2" textLength="9.46" lengthAdjust="spacingAndGlyphs" fill="#000">6</text>
<text x="704.33" y="1068.56" font-size="14.12" stroke="#000" stroke-width="0.2" textLength="9.35" lengthAdjust="spacingAndGlyphs" fill="#000">0</text>
<text x="713.14" y="1068.70" font-size="15" stroke="#000" stroke-width="0.2" textLength="6.81" lengthAdjust="spacingAndGlyphs" fill="#000">.</text>
<text x="719.26" y="1068.62" font-size="17.66" stroke="#000" stroke-width="0.2" textLength="9.28" lengthAdjust="spacingAndGlyphs" fill="#000">8</text>
<text x="569.65" y="789.80" font-size="18.17" font-weight="bold" textLength="54.46" lengthAdjust="spacingAndGlyphs" fill="#000">ANFIS</text>
<text transform="translate(410.60,1006.99) rotate(-90)" x="0" y="0" font-size="18.5" font-weight="bold" textLength="163.78" lengthAdjust="spacingAndGlyphs">Relative deviation</text>
<text x="509.18" y="1103.70" font-size="19" font-weight="bold" textLength="9.65" lengthAdjust="spacingAndGlyphs" fill="#000">x</text>
<text x="519.90" y="1094.10" font-size="13" font-weight="bold" textLength="26.32" lengthAdjust="spacingAndGlyphs" fill="#000">exp</text>
<text x="520.26" y="1112.80" font-size="12.94" font-weight="bold" textLength="9.09" lengthAdjust="spacingAndGlyphs" fill="#000">H</text>
<text x="532.15" y="1124.20" font-size="7.59" font-weight="bold" textLength="5.55" lengthAdjust="spacingAndGlyphs" fill="#000">2</text>
<text x="538.04" y="1112.87" font-size="13.14" font-weight="bold" textLength="8.35" lengthAdjust="spacingAndGlyphs" fill="#000">S</text>
<text x="550.22" y="1103.70" font-size="19" font-weight="bold" textLength="135.45" lengthAdjust="spacingAndGlyphs" fill="#000">(mole fraction)</text>
<rect x="549.5" y="804.5" width="192.0" height="65.0" fill="#fff" stroke="#383838" stroke-width="1"/>
<rect x="576.5" y="812.9" width="7.8" height="7.8" fill="none" stroke="#f00" stroke-width="3.2"/>
<circle cx="580.4" cy="837.2" r="5.25" fill="none" stroke="#00f" stroke-width="3.5"/>
<line x1="554.5" y1="857.5" x2="605.5" y2="857.5" stroke="#000" stroke-width="1"/>
<text x="610.85" y="821.70" font-size="15" stroke="#000" stroke-width="0.2" textLength="100.15" lengthAdjust="spacingAndGlyphs" fill="#000">Training stage</text>
<text x="610.85" y="842.70" font-size="15" stroke="#000" stroke-width="0.2" textLength="93.67" lengthAdjust="spacingAndGlyphs" fill="#000">Testing stage</text>
<text x="609.85" y="862.50" font-size="15" stroke="#000" stroke-width="0.2" textLength="125.03" lengthAdjust="spacingAndGlyphs" fill="#000">Exact predictions</text>
</svg></body></html>
